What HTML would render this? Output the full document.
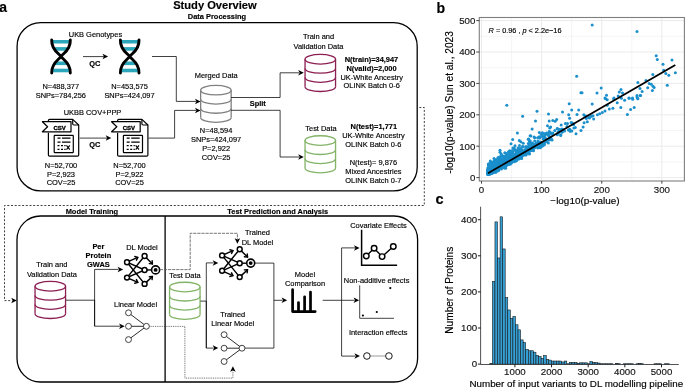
<!DOCTYPE html>
<html><head><meta charset="utf-8"><style>
html,body{margin:0;padding:0;background:#fff;}
body{width:685px;height:389px;overflow:hidden;font-family:"Liberation Sans",sans-serif;}
svg{display:block;will-change:transform;} text{stroke:currentColor;stroke-width:0.15px;}
</style></head><body>
<svg width="685" height="389" viewBox="0 0 685 389" font-family="Liberation Sans, sans-serif">
<rect width="685" height="389" fill="#fff"/>
<text transform="translate(-0.7,12.4) scale(0.93,1)" font-size="15" font-weight="bold">a</text>
<text transform="translate(436.5,12.6) scale(0.94,1)" font-size="15" font-weight="bold">b</text>
<text transform="translate(435.5,203.9) scale(0.97,1)" font-size="15" font-weight="bold">c</text>
<text x="214.95" y="8.5" font-size="11.15" font-weight="bold" text-anchor="middle" >Study Overview</text>
<text x="216.95" y="18.7" font-size="7.45" font-weight="bold" text-anchor="middle" >Data Processing</text>
<rect x="17.1" y="22.7" width="400.1" height="168.2" rx="23.5" ry="23.5" fill="none" stroke="#000" stroke-width="1.3"/>
<text x="95.45" y="37" font-size="7.45" text-anchor="middle" >UKB Genotypes</text>
<clipPath id="dnaclip61"><path d="M51.7,40 C51.2,50 59,53.5 61,56.5 C63,59.5 51.2,63 51.7,73 L70.3,73 C70.8,63 63,59.5 61,56.5 C59,53.5 70.8,50 70.3,40 Z"/></clipPath>
<g clip-path="url(#dnaclip61)" fill="#2ba6bb">
<rect x="49.7" y="39.9" width="22.6" height="3.6"/>
<rect x="49.7" y="47.1" width="22.6" height="3.6"/>
<rect x="49.7" y="61.5" width="22.6" height="3.6"/>
<rect x="49.7" y="68.7" width="22.6" height="3.6"/>
</g>
<path d="M51.7,40 C51.2,50 59,53.5 61,56.5 C63,59.5 70.8,63 70.3,73" fill="none" stroke="#000" stroke-width="2.9" stroke-linecap="round"/>
<path d="M70.3,40 C70.8,50 63,53.5 61,56.5 C59,59.5 51.2,63 51.7,73" fill="none" stroke="#000" stroke-width="2.9" stroke-linecap="round"/>
<clipPath id="dnaclip129"><path d="M120.39999999999999,40 C119.89999999999999,50 127.69999999999999,53.5 129.7,56.5 C131.7,59.5 119.89999999999999,63 120.39999999999999,73 L139.0,73 C139.5,63 131.7,59.5 129.7,56.5 C127.69999999999999,53.5 139.5,50 139.0,40 Z"/></clipPath>
<g clip-path="url(#dnaclip129)" fill="#2ba6bb">
<rect x="118.39999999999999" y="39.9" width="22.6" height="3.6"/>
<rect x="118.39999999999999" y="47.1" width="22.6" height="3.6"/>
<rect x="118.39999999999999" y="61.5" width="22.6" height="3.6"/>
<rect x="118.39999999999999" y="68.7" width="22.6" height="3.6"/>
</g>
<path d="M120.39999999999999,40 C119.89999999999999,50 127.69999999999999,53.5 129.7,56.5 C131.7,59.5 139.5,63 139.0,73" fill="none" stroke="#000" stroke-width="2.9" stroke-linecap="round"/>
<path d="M139.0,40 C139.5,50 131.7,53.5 129.7,56.5 C127.69999999999999,59.5 119.89999999999999,63 120.39999999999999,73" fill="none" stroke="#000" stroke-width="2.9" stroke-linecap="round"/>
<path d="M83,56.6 L104,56.6" fill="none" stroke="#000" stroke-width="0.75"/>
<path d="M108.10,56.60 L102.50,53.85 L103.90,56.60 L102.50,59.35 Z" fill="#000" stroke="none"/>
<text x="94.9" y="65.7" font-size="7.45" font-weight="bold" text-anchor="middle" >QC</text>
<text x="60.8" y="89.4" font-size="7.45" text-anchor="middle" >N=488,377</text>
<text x="60.8" y="98.3" font-size="7.45" text-anchor="middle" >SNPs=784,256</text>
<text x="129.5" y="89.4" font-size="7.45" text-anchor="middle" >N=453,575</text>
<text x="129.5" y="98.3" font-size="7.45" text-anchor="middle" >SNPs=424,097</text>
<text x="92.5" y="115.1" font-size="7.45" text-anchor="middle" >UKBB COV+PPP</text>
<g fill="none" stroke="#000" stroke-width="1.2" stroke-linejoin="round">
<path d="M48.4,121.7 V120.60000000000001 Q48.4,119.4 49.6,119.4 H72.69999999999999 L78.69999999999999,125.0 V154.90000000000003 Q78.69999999999999,156.10000000000002 77.49999999999999,156.10000000000002 H49.6 Q48.4,156.10000000000002 48.4,154.90000000000003 V132.70000000000002"/>
<path d="M72.69999999999999,119.4 V123.80000000000001 Q72.69999999999999,125.0 73.89999999999999,125.0 H78.69999999999999"/>
<path d="M42.4,121.7 H71.0 V131.8 H42.4 L47.6,126.75 Z" fill="#fff"/>
<rect x="54.2" y="135.3" width="19.1" height="17.3" rx="0.6"/>
</g>
<text x="59.599999999999994" y="129.8" font-size="6.0" font-weight="bold" text-anchor="middle" style="stroke-width:0.35px">CSV</text>
<g stroke="#000" stroke-width="1.25">
<path d="M57.5,138.1 H60.5 M62.0,138.1 H70.5"/>
<path d="M57.5,142.20000000000002 H60.5 M62.0,142.20000000000002 H70.5"/>
<path d="M57.5,145.70000000000002 H59.5 M61.0,145.70000000000002 H63.0 M64.3,145.70000000000002 H65.6"/>
<path d="M57.5,149.4 H59.5 M61.0,149.4 H63.0 M64.3,149.4 H65.6"/>
<path d="M66.5,145.4 L69.8,149.70000000000002 M69.8,145.4 L66.5,149.70000000000002" stroke-width="1.1"/>
</g>
<g fill="none" stroke="#000" stroke-width="1.2" stroke-linejoin="round">
<path d="M117.6,121.7 V120.60000000000001 Q117.6,119.4 118.8,119.4 H141.89999999999998 L147.89999999999998,125.0 V154.90000000000003 Q147.89999999999998,156.10000000000002 146.7,156.10000000000002 H118.8 Q117.6,156.10000000000002 117.6,154.90000000000003 V132.70000000000002"/>
<path d="M141.89999999999998,119.4 V123.80000000000001 Q141.89999999999998,125.0 143.09999999999997,125.0 H147.89999999999998"/>
<path d="M111.6,121.7 H140.2 V131.8 H111.6 L116.8,126.75 Z" fill="#fff"/>
<rect x="123.39999999999999" y="135.3" width="19.1" height="17.3" rx="0.6"/>
</g>
<text x="128.79999999999998" y="129.8" font-size="6.0" font-weight="bold" text-anchor="middle" style="stroke-width:0.35px">CSV</text>
<g stroke="#000" stroke-width="1.25">
<path d="M126.69999999999999,138.1 H129.7 M131.2,138.1 H139.7"/>
<path d="M126.69999999999999,142.20000000000002 H129.7 M131.2,142.20000000000002 H139.7"/>
<path d="M126.69999999999999,145.70000000000002 H128.7 M130.2,145.70000000000002 H132.2 M133.5,145.70000000000002 H134.79999999999998"/>
<path d="M126.69999999999999,149.4 H128.7 M130.2,149.4 H132.2 M133.5,149.4 H134.79999999999998"/>
<path d="M135.7,145.4 L139.0,149.70000000000002 M139.0,145.4 L135.7,149.70000000000002" stroke-width="1.1"/>
</g>
<path d="M79.6,138.1 L107,138.1" fill="none" stroke="#000" stroke-width="0.75"/>
<path d="M111.30,138.10 L105.70,135.35 L107.10,138.10 L105.70,140.85 Z" fill="#000" stroke="none"/>
<text x="94.8" y="146.8" font-size="7.45" font-weight="bold" text-anchor="middle" >QC</text>
<text x="61" y="167.7" font-size="7.45" text-anchor="middle" >N=52,700</text>
<text x="61" y="176.55" font-size="7.45" text-anchor="middle" >P=2,923</text>
<text x="61" y="185.4" font-size="7.45" text-anchor="middle" >COV=25</text>
<text x="129.5" y="167.7" font-size="7.45" text-anchor="middle" >N=52,700</text>
<text x="129.5" y="176.55" font-size="7.45" text-anchor="middle" >P=2,922</text>
<text x="129.5" y="185.4" font-size="7.45" text-anchor="middle" >COV=25</text>
<path d="M152,56.5 L176.3,56.5 L176.3,101.4 L196,101.4" fill="none" stroke="#000" stroke-width="0.75"/>
<path d="M200.60,101.40 L195.00,98.65 L196.40,101.40 L195.00,104.15 Z" fill="#000" stroke="none"/>
<path d="M148.5,138.1 L174.6,138.1 L174.6,110.4 L196,110.4" fill="none" stroke="#000" stroke-width="0.75"/>
<path d="M200.60,110.40 L195.00,107.65 L196.40,110.40 L195.00,113.15 Z" fill="#000" stroke="none"/>
<text x="216.25" y="78.4" font-size="7.45" text-anchor="middle" >Merged Data</text>
<g fill="none" stroke="#808080" stroke-width="1.3">
<ellipse cx="215.9" cy="90.15" rx="15.25" ry="4.8"/>
<path d="M200.65,99.30000000000001 A15.25,4.8 0 0 0 231.15,99.30000000000001"/>
<path d="M200.65,108.45 A15.25,4.8 0 0 0 231.15,108.45"/>
<path d="M200.65,117.60000000000001 A15.25,4.8 0 0 0 231.15,117.60000000000001"/>
<path d="M200.65,90.15 V117.60000000000001 M231.15,90.15 V117.60000000000001"/>
</g>
<text x="216.1" y="133.3" font-size="7.45" text-anchor="middle" >N=48,594</text>
<text x="216.1" y="142.2" font-size="7.45" text-anchor="middle" >SNPs=424,097</text>
<text x="216.1" y="151.1" font-size="7.45" text-anchor="middle" >P=2,922</text>
<text x="216.1" y="160.0" font-size="7.45" text-anchor="middle" >COV=25</text>
<path d="M231.1,97.5 L280.1,97.5 L280.1,72.8 L299,72.8" fill="none" stroke="#000" stroke-width="0.75"/>
<path d="M303.80,72.80 L298.20,70.05 L299.60,72.80 L298.20,75.55 Z" fill="#000" stroke="none"/>
<path d="M231.1,110.3 L280.1,110.3 L280.1,157 L299,157" fill="none" stroke="#000" stroke-width="0.75"/>
<path d="M303.80,157.00 L298.20,154.25 L299.60,157.00 L298.20,159.75 Z" fill="#000" stroke="none"/>
<text x="257.75" y="106.2" font-size="7.45" font-weight="bold" text-anchor="middle" >Split</text>
<text x="318.5" y="39.2" font-size="7.45" text-anchor="middle" >Train and</text>
<text x="318.5" y="48.8" font-size="7.45" text-anchor="middle" >Validation Data</text>
<g fill="none" stroke="#8c1f52" stroke-width="1.3">
<ellipse cx="320.3" cy="59.24999999999999" rx="15.25" ry="4.8"/>
<path d="M305.05,68.39999999999999 A15.25,4.8 0 0 0 335.55,68.39999999999999"/>
<path d="M305.05,77.55 A15.25,4.8 0 0 0 335.55,77.55"/>
<path d="M305.05,86.69999999999999 A15.25,4.8 0 0 0 335.55,86.69999999999999"/>
<path d="M305.05,59.24999999999999 V86.69999999999999 M335.55,59.24999999999999 V86.69999999999999"/>
</g>
<text x="371.5" y="61.7" font-size="7.45" font-weight="bold" text-anchor="middle" >N(train)=34,947</text>
<text x="371.5" y="70.55" font-size="7.45" font-weight="bold" text-anchor="middle" >N(valid)=2,000</text>
<text x="371.7" y="79.5" font-size="7.45" text-anchor="middle" >UK-White Ancestry</text>
<text x="371.7" y="88.35" font-size="7.45" text-anchor="middle" >OLINK Batch 0-6</text>
<text x="321" y="130.5" font-size="7.45" text-anchor="middle" >Test Data</text>
<g fill="none" stroke="#82b366" stroke-width="1.3">
<ellipse cx="320.3" cy="140.55" rx="15.25" ry="4.8"/>
<path d="M305.05,149.70000000000002 A15.25,4.8 0 0 0 335.55,149.70000000000002"/>
<path d="M305.05,158.85000000000002 A15.25,4.8 0 0 0 335.55,158.85000000000002"/>
<path d="M305.05,168.0 A15.25,4.8 0 0 0 335.55,168.0"/>
<path d="M305.05,140.55 V168.0 M335.55,140.55 V168.0"/>
</g>
<text x="373.8" y="129.3" font-size="7.45" font-weight="bold" text-anchor="middle" >N(test)=1,771</text>
<text x="373.4" y="138.2" font-size="7.45" text-anchor="middle" >UK-White Ancestry</text>
<text x="373.4" y="147.1" font-size="7.45" text-anchor="middle" >OLINK Batch 0-6</text>
<text x="373.4" y="164.9" font-size="7.45" text-anchor="middle" >N(test)= 9,876</text>
<text x="373.4" y="173.8" font-size="7.45" text-anchor="middle" >Mixed Ancestries</text>
<text x="373.4" y="182.7" font-size="7.45" text-anchor="middle" >OLINK Batch 0-7</text>
<path d="M419.3,107.5 L424.3,107.5 L424.3,205.5 L4.5,205.5 L4.5,300.6 L12,300.6" fill="none" stroke="#111" stroke-width="0.8" stroke-dasharray="2 1.7"/>
<path d="M16.80,300.60 L11.20,297.85 L12.60,300.60 L11.20,303.35 Z" fill="#000" stroke="none"/>
<text x="91.9" y="213.5" font-size="7.45" font-weight="bold" text-anchor="middle" >Model Training</text>
<text x="277.75" y="213.5" font-size="7.45" font-weight="bold" text-anchor="middle" >Test Prediction and Analysis</text>
<rect x="17" y="216" width="400.6" height="166" rx="23.5" ry="23.5" fill="none" stroke="#000" stroke-width="1.3"/>
<path d="M165.1,216 V382" stroke="#000" stroke-width="1.3"/>
<text x="51.9" y="267.1" font-size="7.45" text-anchor="middle" >Train and</text>
<text x="51.9" y="276.7" font-size="7.45" text-anchor="middle" >Validation Data</text>
<g fill="none" stroke="#8c1f52" stroke-width="1.3">
<ellipse cx="50.3" cy="286.25" rx="15.25" ry="4.8"/>
<path d="M35.05,295.4 A15.25,4.8 0 0 0 65.55,295.4"/>
<path d="M35.05,304.55 A15.25,4.8 0 0 0 65.55,304.55"/>
<path d="M35.05,313.7 A15.25,4.8 0 0 0 65.55,313.7"/>
<path d="M35.05,286.25 V313.7 M65.55,286.25 V313.7"/>
</g>
<path d="M65.9,300.2 L94.6,300.2" fill="none" stroke="#000" stroke-width="0.75"/>
<path d="M94.6,326.2 L94.6,269.4 L118.5,269.4" fill="none" stroke="#000" stroke-width="0.75"/>
<path d="M123.20,269.40 L117.60,266.65 L119.00,269.40 L117.60,272.15 Z" fill="#000" stroke="none"/>
<path d="M94.6,300 L94.6,326.2 L120,326.2" fill="none" stroke="#000" stroke-width="0.75"/>
<path d="M124.70,326.20 L119.10,323.45 L120.50,326.20 L119.10,328.95 Z" fill="#000" stroke="none"/>
<text x="98.4" y="249.1" font-size="7.45" font-weight="bold" text-anchor="middle" >Per</text>
<text x="98.4" y="257.95" font-size="7.45" font-weight="bold" text-anchor="middle" >Protein</text>
<text x="98.4" y="266.8" font-size="7.45" font-weight="bold" text-anchor="middle" >GWAS</text>
<text x="141.95" y="249.6" font-size="7.45" text-anchor="middle" >DL Model</text>
<g fill="none" stroke="#000" stroke-width="1.45" stroke-linecap="round" stroke-linejoin="round"><path d="M127,262.2 L144.6,270.0"/><path d="M127,262.2 L144.6,283.9"/><path d="M127,277.6 L144.6,256"/><path d="M127,277.6 L144.6,270.0"/><path d="M127,262.2 L137.80,257.40"/><path d="M136.44,260.19 L137.80,257.40 L134.82,256.54"/><path d="M127,277.6 L137.80,282.40"/><path d="M134.82,283.26 L137.80,282.40 L136.44,279.61"/><path d="M144.6,256 L152.40,263.90"/><path d="M149.31,263.62 L152.40,263.90 L152.16,260.81"/><path d="M144.6,283.9 L152.40,276.50"/><path d="M152.05,279.58 L152.40,276.50 L149.31,276.68"/><path d="M144.6,270.0 L155.6,269.9"/></g>
<circle cx="127" cy="262.2" r="2.45" fill="#fff" stroke="#000" stroke-width="1.45"/>
<circle cx="127" cy="277.6" r="2.45" fill="#fff" stroke="#000" stroke-width="1.45"/>
<circle cx="144.6" cy="256" r="2.45" fill="#fff" stroke="#000" stroke-width="1.45"/>
<circle cx="144.6" cy="270.0" r="2.45" fill="#fff" stroke="#000" stroke-width="1.45"/>
<circle cx="144.6" cy="283.9" r="2.45" fill="#fff" stroke="#000" stroke-width="1.45"/>
<circle cx="155.6" cy="269.9" r="4.0" fill="#fff" stroke="#000" stroke-width="1.6"/>
<circle cx="155.6" cy="269.9" r="1.95" fill="#000"/>
<text x="135.55" y="307.2" font-size="7.45" text-anchor="middle" >Linear Model</text>
<path d="M128.50,312.80 L146.40,326.30" stroke="#222" stroke-width="0.95" fill="none"/>
<path d="M128.50,326.30 L146.40,326.30" stroke="#222" stroke-width="0.95" fill="none"/>
<path d="M128.50,339.60 L146.40,326.30" stroke="#222" stroke-width="0.95" fill="none"/>
<circle cx="128.50" cy="312.80" r="2.95" fill="#fff" stroke="#222" stroke-width="0.85"/>
<circle cx="128.50" cy="326.30" r="2.95" fill="#fff" stroke="#222" stroke-width="0.85"/>
<circle cx="128.50" cy="339.60" r="2.95" fill="#fff" stroke="#222" stroke-width="0.85"/>
<circle cx="146.40" cy="326.30" r="2.95" fill="#fff" stroke="#222" stroke-width="0.85"/>
<path d="M159.79999999999998,269.6 L190.2,269.6 L190.2,233.3 L237.4,233.3 L237.4,239" fill="none" stroke="#555" stroke-width="0.8" stroke-dasharray="3.2 0.9"/>
<path d="M237.40,243.80 L234.65,238.20 L237.40,239.60 L240.15,238.20 Z" fill="#000" stroke="none"/>
<path d="M149.6,326.4 L184.9,326.4 L184.9,378.1 L232.9,378.1 L232.9,371" fill="none" stroke="#333" stroke-width="0.75" stroke-dasharray="0.9 0.9"/>
<path d="M232.90,366.20 L230.15,371.80 L232.90,370.40 L235.65,371.80 Z" fill="#000" stroke="none"/>
<text x="184.9" y="278.4" font-size="7.45" text-anchor="middle" >Test Data</text>
<g fill="none" stroke="#82b366" stroke-width="1.3">
<ellipse cx="184.8" cy="287.05" rx="15.25" ry="4.8"/>
<path d="M169.55,296.2 A15.25,4.8 0 0 0 200.05,296.2"/>
<path d="M169.55,305.35 A15.25,4.8 0 0 0 200.05,305.35"/>
<path d="M169.55,314.5 A15.25,4.8 0 0 0 200.05,314.5"/>
<path d="M169.55,287.05 V314.5 M200.05,287.05 V314.5"/>
</g>
<path d="M200.4,301.1 L206.3,301.1" fill="none" stroke="#000" stroke-width="0.75"/>
<path d="M206.3,348.1 L206.3,262.9 L213.5,262.9" fill="none" stroke="#000" stroke-width="0.75"/>
<path d="M218.30,262.90 L212.70,260.15 L214.10,262.90 L212.70,265.65 Z" fill="#000" stroke="none"/>
<path d="M206.3,301 L206.3,348.1 L213.5,348.1" fill="none" stroke="#000" stroke-width="0.75"/>
<path d="M218.30,348.10 L212.70,345.35 L214.10,348.10 L212.70,350.85 Z" fill="#000" stroke="none"/>
<text x="257.5" y="235.4" font-size="7.45" text-anchor="middle" >Trained</text>
<text x="257.5" y="244.6" font-size="7.45" text-anchor="middle" >DL Model</text>
<g fill="none" stroke="#000" stroke-width="1.45" stroke-linecap="round" stroke-linejoin="round"><path d="M222.1,255.4 L239.7,263.2"/><path d="M222.1,255.4 L239.7,277.1"/><path d="M222.1,270.8 L239.7,249.2"/><path d="M222.1,270.8 L239.7,263.2"/><path d="M222.1,255.4 L232.90,250.60"/><path d="M231.54,253.39 L232.90,250.60 L229.92,249.74"/><path d="M222.1,270.8 L232.90,275.60"/><path d="M229.92,276.46 L232.90,275.60 L231.54,272.81"/><path d="M239.7,249.2 L247.50,257.10"/><path d="M244.41,256.82 L247.50,257.10 L247.26,254.01"/><path d="M239.7,277.1 L247.50,269.70"/><path d="M247.15,272.78 L247.50,269.70 L244.41,269.88"/><path d="M239.7,263.2 L250.7,263.1"/></g>
<circle cx="222.1" cy="255.4" r="2.45" fill="#fff" stroke="#000" stroke-width="1.45"/>
<circle cx="222.1" cy="270.8" r="2.45" fill="#fff" stroke="#000" stroke-width="1.45"/>
<circle cx="239.7" cy="249.2" r="2.45" fill="#fff" stroke="#000" stroke-width="1.45"/>
<circle cx="239.7" cy="263.2" r="2.45" fill="#fff" stroke="#000" stroke-width="1.45"/>
<circle cx="239.7" cy="277.1" r="2.45" fill="#fff" stroke="#000" stroke-width="1.45"/>
<circle cx="250.7" cy="263.1" r="4.0" fill="#fff" stroke="#000" stroke-width="1.6"/>
<circle cx="250.7" cy="263.1" r="1.95" fill="#000"/>
<text x="232.7" y="317.2" font-size="7.45" text-anchor="middle" >Trained</text>
<text x="232.7" y="326.2" font-size="7.45" text-anchor="middle" >Linear Model</text>
<path d="M224.10,334.70 L242.00,348.20" stroke="#222" stroke-width="0.95" fill="none"/>
<path d="M224.10,348.20 L242.00,348.20" stroke="#222" stroke-width="0.95" fill="none"/>
<path d="M224.10,361.50 L242.00,348.20" stroke="#222" stroke-width="0.95" fill="none"/>
<circle cx="224.10" cy="334.70" r="2.95" fill="#fff" stroke="#222" stroke-width="0.85"/>
<circle cx="224.10" cy="348.20" r="2.95" fill="#fff" stroke="#222" stroke-width="0.85"/>
<circle cx="224.10" cy="361.50" r="2.95" fill="#fff" stroke="#222" stroke-width="0.85"/>
<circle cx="242.00" cy="348.20" r="2.95" fill="#fff" stroke="#222" stroke-width="0.85"/>
<path d="M254.89999999999998,263.1 L273.9,263.1 L273.9,348.1 L245.0,348.1" fill="none" stroke="#000" stroke-width="0.75"/>
<path d="M273.9,300.3 L282.5,300.3" fill="none" stroke="#000" stroke-width="0.75"/>
<path d="M287.20,300.30 L281.60,297.55 L283.00,300.30 L281.60,303.05 Z" fill="#000" stroke="none"/>
<text x="305" y="277.4" font-size="7.45" text-anchor="middle" >Model</text>
<text x="305" y="286.25" font-size="7.45" text-anchor="middle" >Comparison</text>
<path d="M292.6,289.7 V311.6 H315.2 M298.5,311.6 V302.5 M304.6,311.6 V296.8 M310.5,311.6 V292.1" fill="none" stroke="#000" stroke-width="2.7" stroke-linecap="round" stroke-linejoin="round"/>
<path d="M322.7,300.3 L341.6,300.3" fill="none" stroke="#000" stroke-width="0.75"/>
<path d="M341.6,247.9 L341.6,356.1 L355,356.1" fill="none" stroke="#000" stroke-width="0.75"/>
<path d="M341.6,247.9 L355,247.9" fill="none" stroke="#000" stroke-width="0.75"/>
<path d="M359.60,247.90 L354.00,245.15 L355.40,247.90 L354.00,250.65 Z" fill="#000" stroke="none"/>
<path d="M341.6,300.3 L354.6,300.3" fill="none" stroke="#000" stroke-width="0.75"/>
<path d="M359.20,300.30 L353.60,297.55 L355.00,300.30 L353.60,303.05 Z" fill="#000" stroke="none"/>
<path d="M360.00,356.10 L354.40,353.35 L355.80,356.10 L354.40,358.85 Z" fill="#000" stroke="none"/>
<text x="378.45" y="227.6" font-size="7.45" text-anchor="middle" >Covariate Effects</text>
<path d="M361.6,229.7 V265.2 H397.1" fill="none" stroke="#000" stroke-width="1.5"/>
<path d="M366.3,256 L374.1,248.2 L382.1,256.6 L393.3,246.5" fill="none" stroke="#000" stroke-width="1.4"/>
<circle cx="366.3" cy="256" r="2.75" fill="#fff" stroke="#000" stroke-width="1.45"/>
<circle cx="374.1" cy="248.2" r="2.75" fill="#fff" stroke="#000" stroke-width="1.45"/>
<circle cx="382.1" cy="256.6" r="2.75" fill="#fff" stroke="#000" stroke-width="1.45"/>
<circle cx="393.3" cy="246.5" r="2.75" fill="#fff" stroke="#000" stroke-width="1.45"/>
<text x="376.6" y="282.6" font-size="7.45" text-anchor="middle" >Non-additive effects</text>
<path d="M359.7,285.4 V318.3 H394" fill="none" stroke="#222" stroke-width="0.85"/>
<circle cx="362.9" cy="315.5" r="1.1" fill="#000"/>
<circle cx="376.8" cy="312" r="1.1" fill="#000"/>
<circle cx="390.3" cy="288.1" r="1.1" fill="#000"/>
<text x="378.2" y="335.3" font-size="7.45" text-anchor="middle" >Interaction effects</text>
<path d="M370.6,356 H385.2" stroke="#555" stroke-width="0.6"/>
<circle cx="366.9" cy="356" r="3.3" fill="#fff" stroke="#000" stroke-width="0.9"/>
<circle cx="388.9" cy="356" r="3.3" fill="#fff" stroke="#000" stroke-width="0.9"/>
<rect x="479.3" y="17.5" width="205.09999999999997" height="163.5" fill="#fff"/>
<g stroke="#ebebeb" stroke-width="0.5"><path d="M511.56,17.5 V181.0"/><path d="M571.68,17.5 V181.0"/><path d="M631.80,17.5 V181.0"/><path d="M479.3,161.90 H684.4"/><path d="M479.3,130.50 H684.4"/><path d="M479.3,99.10 H684.4"/><path d="M479.3,67.70 H684.4"/><path d="M479.3,36.30 H684.4"/></g><g stroke="#ebebeb" stroke-width="1"><path d="M481.50,17.5 V181.0"/><path d="M541.62,17.5 V181.0"/><path d="M601.74,17.5 V181.0"/><path d="M661.86,17.5 V181.0"/><path d="M479.3,177.60 H684.4"/><path d="M479.3,146.20 H684.4"/><path d="M479.3,114.80 H684.4"/><path d="M479.3,83.40 H684.4"/><path d="M479.3,52.00 H684.4"/><path d="M479.3,20.60 H684.4"/></g>
<g fill="#1a8fcc"><circle cx="489.5" cy="171.5" r="1.5"/><circle cx="496.0" cy="167.7" r="1.5"/><circle cx="488.7" cy="173.9" r="1.5"/><circle cx="562.0" cy="128.9" r="1.5"/><circle cx="532.5" cy="142.9" r="1.5"/><circle cx="491.9" cy="170.3" r="1.5"/><circle cx="498.0" cy="168.3" r="1.5"/><circle cx="490.3" cy="172.6" r="1.5"/><circle cx="492.0" cy="168.4" r="1.5"/><circle cx="494.6" cy="170.2" r="1.5"/><circle cx="512.5" cy="159.7" r="1.5"/><circle cx="494.0" cy="170.8" r="1.5"/><circle cx="495.6" cy="167.1" r="1.5"/><circle cx="512.6" cy="155.2" r="1.5"/><circle cx="497.9" cy="170.1" r="1.5"/><circle cx="500.6" cy="162.2" r="1.5"/><circle cx="496.0" cy="168.6" r="1.5"/><circle cx="489.0" cy="168.4" r="1.5"/><circle cx="490.9" cy="171.9" r="1.5"/><circle cx="513.3" cy="156.6" r="1.5"/><circle cx="495.8" cy="169.9" r="1.5"/><circle cx="494.4" cy="168.4" r="1.5"/><circle cx="495.5" cy="168.5" r="1.5"/><circle cx="497.6" cy="168.4" r="1.5"/><circle cx="505.8" cy="158.7" r="1.5"/><circle cx="539.9" cy="147.3" r="1.5"/><circle cx="493.6" cy="168.5" r="1.5"/><circle cx="489.6" cy="171.2" r="1.5"/><circle cx="489.5" cy="167.0" r="1.5"/><circle cx="491.6" cy="169.5" r="1.5"/><circle cx="489.1" cy="169.2" r="1.5"/><circle cx="488.8" cy="173.5" r="1.5"/><circle cx="487.8" cy="170.4" r="1.5"/><circle cx="496.5" cy="168.9" r="1.5"/><circle cx="517.6" cy="152.1" r="1.5"/><circle cx="505.7" cy="161.1" r="1.5"/><circle cx="528.9" cy="146.1" r="1.5"/><circle cx="487.9" cy="174.0" r="1.5"/><circle cx="501.7" cy="164.0" r="1.5"/><circle cx="490.5" cy="171.6" r="1.5"/><circle cx="499.3" cy="162.0" r="1.5"/><circle cx="489.7" cy="173.3" r="1.5"/><circle cx="526.0" cy="146.6" r="1.5"/><circle cx="506.9" cy="164.6" r="1.5"/><circle cx="493.7" cy="167.8" r="1.5"/><circle cx="515.8" cy="158.8" r="1.5"/><circle cx="508.6" cy="156.9" r="1.5"/><circle cx="487.7" cy="173.5" r="1.5"/><circle cx="506.4" cy="161.3" r="1.5"/><circle cx="493.5" cy="169.8" r="1.5"/><circle cx="498.1" cy="161.6" r="1.5"/><circle cx="494.9" cy="168.0" r="1.5"/><circle cx="501.3" cy="162.3" r="1.5"/><circle cx="494.5" cy="170.2" r="1.5"/><circle cx="492.3" cy="172.6" r="1.5"/><circle cx="496.3" cy="168.2" r="1.5"/><circle cx="490.3" cy="169.3" r="1.5"/><circle cx="497.4" cy="168.3" r="1.5"/><circle cx="502.3" cy="163.4" r="1.5"/><circle cx="496.7" cy="162.4" r="1.5"/><circle cx="540.3" cy="142.0" r="1.5"/><circle cx="564.6" cy="131.1" r="1.5"/><circle cx="488.4" cy="172.9" r="1.5"/><circle cx="544.9" cy="135.1" r="1.5"/><circle cx="491.4" cy="162.2" r="1.5"/><circle cx="495.5" cy="171.2" r="1.5"/><circle cx="492.0" cy="171.7" r="1.5"/><circle cx="502.9" cy="161.9" r="1.5"/><circle cx="487.7" cy="173.8" r="1.5"/><circle cx="552.9" cy="133.1" r="1.5"/><circle cx="491.2" cy="169.2" r="1.5"/><circle cx="516.7" cy="156.4" r="1.5"/><circle cx="489.5" cy="171.1" r="1.5"/><circle cx="488.2" cy="173.6" r="1.5"/><circle cx="488.4" cy="171.6" r="1.5"/><circle cx="510.8" cy="155.6" r="1.5"/><circle cx="492.5" cy="172.8" r="1.5"/><circle cx="490.8" cy="172.0" r="1.5"/><circle cx="490.2" cy="172.2" r="1.5"/><circle cx="495.8" cy="166.7" r="1.5"/><circle cx="491.0" cy="169.7" r="1.5"/><circle cx="495.3" cy="168.9" r="1.5"/><circle cx="508.1" cy="163.8" r="1.5"/><circle cx="496.0" cy="168.1" r="1.5"/><circle cx="505.2" cy="162.3" r="1.5"/><circle cx="492.6" cy="171.8" r="1.5"/><circle cx="503.8" cy="159.5" r="1.5"/><circle cx="515.5" cy="155.8" r="1.5"/><circle cx="494.9" cy="160.8" r="1.5"/><circle cx="520.8" cy="141.7" r="1.5"/><circle cx="492.8" cy="167.7" r="1.5"/><circle cx="496.0" cy="168.0" r="1.5"/><circle cx="493.6" cy="169.1" r="1.5"/><circle cx="496.6" cy="168.3" r="1.5"/><circle cx="519.3" cy="140.6" r="1.5"/><circle cx="503.0" cy="165.9" r="1.5"/><circle cx="509.2" cy="159.4" r="1.5"/><circle cx="491.3" cy="170.7" r="1.5"/><circle cx="528.7" cy="149.0" r="1.5"/><circle cx="517.4" cy="159.2" r="1.5"/><circle cx="492.9" cy="168.6" r="1.5"/><circle cx="512.4" cy="157.4" r="1.5"/><circle cx="487.6" cy="171.3" r="1.5"/><circle cx="489.2" cy="174.1" r="1.5"/><circle cx="488.4" cy="170.2" r="1.5"/><circle cx="516.2" cy="152.2" r="1.5"/><circle cx="524.3" cy="154.9" r="1.5"/><circle cx="503.9" cy="163.6" r="1.5"/><circle cx="488.3" cy="173.1" r="1.5"/><circle cx="496.2" cy="165.2" r="1.5"/><circle cx="489.0" cy="172.0" r="1.5"/><circle cx="488.3" cy="169.7" r="1.5"/><circle cx="512.6" cy="159.6" r="1.5"/><circle cx="498.0" cy="164.8" r="1.5"/><circle cx="493.5" cy="169.5" r="1.5"/><circle cx="494.2" cy="171.0" r="1.5"/><circle cx="487.8" cy="171.3" r="1.5"/><circle cx="492.6" cy="166.4" r="1.5"/><circle cx="504.2" cy="163.7" r="1.5"/><circle cx="546.1" cy="140.3" r="1.5"/><circle cx="568.3" cy="130.1" r="1.5"/><circle cx="488.8" cy="173.2" r="1.5"/><circle cx="520.5" cy="154.4" r="1.5"/><circle cx="525.1" cy="150.7" r="1.5"/><circle cx="512.7" cy="151.7" r="1.5"/><circle cx="503.4" cy="162.8" r="1.5"/><circle cx="496.0" cy="164.3" r="1.5"/><circle cx="491.8" cy="170.3" r="1.5"/><circle cx="500.2" cy="167.0" r="1.5"/><circle cx="489.7" cy="172.4" r="1.5"/><circle cx="504.9" cy="163.1" r="1.5"/><circle cx="489.3" cy="170.0" r="1.5"/><circle cx="488.7" cy="172.7" r="1.5"/><circle cx="522.5" cy="150.5" r="1.5"/><circle cx="493.2" cy="162.5" r="1.5"/><circle cx="495.9" cy="168.3" r="1.5"/><circle cx="493.7" cy="168.7" r="1.5"/><circle cx="567.0" cy="126.4" r="1.5"/><circle cx="487.9" cy="171.8" r="1.5"/><circle cx="493.5" cy="172.5" r="1.5"/><circle cx="536.4" cy="143.6" r="1.5"/><circle cx="501.3" cy="165.9" r="1.5"/><circle cx="513.8" cy="158.6" r="1.5"/><circle cx="505.8" cy="158.0" r="1.5"/><circle cx="496.7" cy="167.6" r="1.5"/><circle cx="490.5" cy="169.5" r="1.5"/><circle cx="493.4" cy="169.0" r="1.5"/><circle cx="525.9" cy="148.9" r="1.5"/><circle cx="503.8" cy="164.3" r="1.5"/><circle cx="496.8" cy="165.6" r="1.5"/><circle cx="501.3" cy="165.9" r="1.5"/><circle cx="487.9" cy="170.5" r="1.5"/><circle cx="493.1" cy="169.2" r="1.5"/><circle cx="503.2" cy="167.1" r="1.5"/><circle cx="490.5" cy="171.7" r="1.5"/><circle cx="490.0" cy="171.7" r="1.5"/><circle cx="562.5" cy="111.9" r="1.5"/><circle cx="488.2" cy="171.2" r="1.5"/><circle cx="541.8" cy="144.4" r="1.5"/><circle cx="490.0" cy="173.6" r="1.5"/><circle cx="500.6" cy="166.7" r="1.5"/><circle cx="491.5" cy="163.5" r="1.5"/><circle cx="527.6" cy="150.6" r="1.5"/><circle cx="501.8" cy="162.4" r="1.5"/><circle cx="517.8" cy="155.9" r="1.5"/><circle cx="493.9" cy="168.8" r="1.5"/><circle cx="488.6" cy="172.5" r="1.5"/><circle cx="504.1" cy="164.1" r="1.5"/><circle cx="491.3" cy="167.0" r="1.5"/><circle cx="491.4" cy="168.5" r="1.5"/><circle cx="512.9" cy="157.0" r="1.5"/><circle cx="491.0" cy="170.0" r="1.5"/><circle cx="492.6" cy="169.9" r="1.5"/><circle cx="511.1" cy="162.0" r="1.5"/><circle cx="505.8" cy="162.3" r="1.5"/><circle cx="488.3" cy="170.9" r="1.5"/><circle cx="534.7" cy="140.9" r="1.5"/><circle cx="495.8" cy="171.3" r="1.5"/><circle cx="490.7" cy="172.9" r="1.5"/><circle cx="534.9" cy="145.2" r="1.5"/><circle cx="509.6" cy="157.9" r="1.5"/><circle cx="490.9" cy="169.8" r="1.5"/><circle cx="509.3" cy="162.1" r="1.5"/><circle cx="490.7" cy="170.7" r="1.5"/><circle cx="495.3" cy="168.1" r="1.5"/><circle cx="491.7" cy="172.6" r="1.5"/><circle cx="524.3" cy="151.0" r="1.5"/><circle cx="491.1" cy="171.8" r="1.5"/><circle cx="492.2" cy="171.0" r="1.5"/><circle cx="490.3" cy="170.7" r="1.5"/><circle cx="493.3" cy="169.2" r="1.5"/><circle cx="492.0" cy="167.2" r="1.5"/><circle cx="488.3" cy="172.1" r="1.5"/><circle cx="489.9" cy="168.8" r="1.5"/><circle cx="491.5" cy="170.3" r="1.5"/><circle cx="494.0" cy="167.0" r="1.5"/><circle cx="506.5" cy="161.9" r="1.5"/><circle cx="501.4" cy="163.4" r="1.5"/><circle cx="513.3" cy="157.8" r="1.5"/><circle cx="548.3" cy="135.1" r="1.5"/><circle cx="496.0" cy="161.8" r="1.5"/><circle cx="495.6" cy="168.1" r="1.5"/><circle cx="496.8" cy="166.1" r="1.5"/><circle cx="488.2" cy="171.3" r="1.5"/><circle cx="515.7" cy="155.6" r="1.5"/><circle cx="493.7" cy="171.5" r="1.5"/><circle cx="492.6" cy="169.2" r="1.5"/><circle cx="490.9" cy="170.4" r="1.5"/><circle cx="488.6" cy="170.5" r="1.5"/><circle cx="498.5" cy="168.2" r="1.5"/><circle cx="496.7" cy="167.2" r="1.5"/><circle cx="494.4" cy="166.5" r="1.5"/><circle cx="490.7" cy="171.0" r="1.5"/><circle cx="488.9" cy="173.2" r="1.5"/><circle cx="494.5" cy="169.9" r="1.5"/><circle cx="503.4" cy="164.6" r="1.5"/><circle cx="488.2" cy="174.0" r="1.5"/><circle cx="510.9" cy="160.5" r="1.5"/><circle cx="530.1" cy="135.8" r="1.5"/><circle cx="492.1" cy="167.8" r="1.5"/><circle cx="490.4" cy="167.9" r="1.5"/><circle cx="507.8" cy="157.8" r="1.5"/><circle cx="493.4" cy="170.1" r="1.5"/><circle cx="489.6" cy="171.0" r="1.5"/><circle cx="544.5" cy="136.0" r="1.5"/><circle cx="498.8" cy="165.0" r="1.5"/><circle cx="497.9" cy="167.1" r="1.5"/><circle cx="500.2" cy="166.8" r="1.5"/><circle cx="543.5" cy="144.9" r="1.5"/><circle cx="489.9" cy="172.6" r="1.5"/><circle cx="508.1" cy="162.0" r="1.5"/><circle cx="500.6" cy="164.0" r="1.5"/><circle cx="489.5" cy="168.2" r="1.5"/><circle cx="490.6" cy="172.4" r="1.5"/><circle cx="487.5" cy="173.1" r="1.5"/><circle cx="498.2" cy="164.5" r="1.5"/><circle cx="489.3" cy="171.5" r="1.5"/><circle cx="539.3" cy="145.5" r="1.5"/><circle cx="491.2" cy="169.8" r="1.5"/><circle cx="500.0" cy="159.2" r="1.5"/><circle cx="494.7" cy="167.9" r="1.5"/><circle cx="488.2" cy="173.2" r="1.5"/><circle cx="497.1" cy="165.1" r="1.5"/><circle cx="499.8" cy="166.8" r="1.5"/><circle cx="492.0" cy="171.0" r="1.5"/><circle cx="519.2" cy="149.1" r="1.5"/><circle cx="503.3" cy="164.4" r="1.5"/><circle cx="488.0" cy="171.3" r="1.5"/><circle cx="534.6" cy="147.8" r="1.5"/><circle cx="506.2" cy="163.4" r="1.5"/><circle cx="572.3" cy="123.1" r="1.5"/><circle cx="503.9" cy="161.1" r="1.5"/><circle cx="497.5" cy="161.1" r="1.5"/><circle cx="517.3" cy="158.1" r="1.5"/><circle cx="514.2" cy="157.0" r="1.5"/><circle cx="503.0" cy="166.8" r="1.5"/><circle cx="490.4" cy="172.1" r="1.5"/><circle cx="487.8" cy="167.9" r="1.5"/><circle cx="489.4" cy="172.1" r="1.5"/><circle cx="517.7" cy="156.6" r="1.5"/><circle cx="498.2" cy="169.1" r="1.5"/><circle cx="489.2" cy="171.0" r="1.5"/><circle cx="560.4" cy="130.9" r="1.5"/><circle cx="529.7" cy="148.9" r="1.5"/><circle cx="512.7" cy="155.3" r="1.5"/><circle cx="492.1" cy="170.3" r="1.5"/><circle cx="491.5" cy="163.9" r="1.5"/><circle cx="510.4" cy="162.4" r="1.5"/><circle cx="493.9" cy="168.9" r="1.5"/><circle cx="490.4" cy="171.0" r="1.5"/><circle cx="508.1" cy="157.8" r="1.5"/><circle cx="487.7" cy="171.8" r="1.5"/><circle cx="492.7" cy="171.6" r="1.5"/><circle cx="522.1" cy="153.3" r="1.5"/><circle cx="504.9" cy="157.7" r="1.5"/><circle cx="526.6" cy="149.6" r="1.5"/><circle cx="493.7" cy="166.9" r="1.5"/><circle cx="490.3" cy="165.4" r="1.5"/><circle cx="493.2" cy="167.8" r="1.5"/><circle cx="522.8" cy="154.9" r="1.5"/><circle cx="492.3" cy="169.5" r="1.5"/><circle cx="492.2" cy="165.6" r="1.5"/><circle cx="489.1" cy="174.1" r="1.5"/><circle cx="502.1" cy="164.6" r="1.5"/><circle cx="489.6" cy="171.9" r="1.5"/><circle cx="490.0" cy="171.0" r="1.5"/><circle cx="490.2" cy="162.3" r="1.5"/><circle cx="520.9" cy="154.4" r="1.5"/><circle cx="490.4" cy="170.4" r="1.5"/><circle cx="517.4" cy="151.7" r="1.5"/><circle cx="489.4" cy="173.2" r="1.5"/><circle cx="501.7" cy="166.4" r="1.5"/><circle cx="501.3" cy="165.4" r="1.5"/><circle cx="517.9" cy="153.2" r="1.5"/><circle cx="513.4" cy="160.6" r="1.5"/><circle cx="494.1" cy="169.5" r="1.5"/><circle cx="512.6" cy="156.6" r="1.5"/><circle cx="501.0" cy="164.4" r="1.5"/><circle cx="500.3" cy="156.6" r="1.5"/><circle cx="496.9" cy="165.7" r="1.5"/><circle cx="518.3" cy="150.0" r="1.5"/><circle cx="499.8" cy="165.5" r="1.5"/><circle cx="493.9" cy="169.1" r="1.5"/><circle cx="504.8" cy="152.8" r="1.5"/><circle cx="488.2" cy="172.0" r="1.5"/><circle cx="501.9" cy="163.1" r="1.5"/><circle cx="503.8" cy="158.2" r="1.5"/><circle cx="490.4" cy="169.0" r="1.5"/><circle cx="512.9" cy="151.6" r="1.5"/><circle cx="499.8" cy="166.3" r="1.5"/><circle cx="503.5" cy="160.3" r="1.5"/><circle cx="510.4" cy="157.1" r="1.5"/><circle cx="494.2" cy="169.7" r="1.5"/><circle cx="490.9" cy="170.0" r="1.5"/><circle cx="499.7" cy="167.4" r="1.5"/><circle cx="489.0" cy="173.4" r="1.5"/><circle cx="526.2" cy="149.1" r="1.5"/><circle cx="487.7" cy="171.9" r="1.5"/><circle cx="494.8" cy="165.3" r="1.5"/><circle cx="489.5" cy="171.9" r="1.5"/><circle cx="492.2" cy="169.6" r="1.5"/><circle cx="544.2" cy="144.6" r="1.5"/><circle cx="493.1" cy="170.8" r="1.5"/><circle cx="513.3" cy="161.3" r="1.5"/><circle cx="490.7" cy="169.4" r="1.5"/><circle cx="495.6" cy="165.9" r="1.5"/><circle cx="487.7" cy="172.7" r="1.5"/><circle cx="533.9" cy="148.2" r="1.5"/><circle cx="490.8" cy="170.5" r="1.5"/><circle cx="555.2" cy="121.3" r="1.5"/><circle cx="495.5" cy="168.7" r="1.5"/><circle cx="498.0" cy="167.8" r="1.5"/><circle cx="495.2" cy="169.9" r="1.5"/><circle cx="497.2" cy="168.4" r="1.5"/><circle cx="508.7" cy="161.3" r="1.5"/><circle cx="532.2" cy="146.8" r="1.5"/><circle cx="492.1" cy="171.3" r="1.5"/><circle cx="488.5" cy="171.5" r="1.5"/><circle cx="507.4" cy="160.4" r="1.5"/><circle cx="511.2" cy="159.8" r="1.5"/><circle cx="548.3" cy="143.1" r="1.5"/><circle cx="510.4" cy="162.3" r="1.5"/><circle cx="500.7" cy="167.9" r="1.5"/><circle cx="505.4" cy="162.7" r="1.5"/><circle cx="499.1" cy="165.9" r="1.5"/><circle cx="491.8" cy="171.9" r="1.5"/><circle cx="499.9" cy="166.1" r="1.5"/><circle cx="489.0" cy="172.7" r="1.5"/><circle cx="517.7" cy="154.1" r="1.5"/><circle cx="493.9" cy="167.4" r="1.5"/><circle cx="489.5" cy="172.2" r="1.5"/><circle cx="528.3" cy="143.4" r="1.5"/><circle cx="487.7" cy="173.4" r="1.5"/><circle cx="488.1" cy="173.8" r="1.5"/><circle cx="536.4" cy="146.5" r="1.5"/><circle cx="503.1" cy="165.4" r="1.5"/><circle cx="527.6" cy="147.5" r="1.5"/><circle cx="489.6" cy="169.5" r="1.5"/><circle cx="511.2" cy="158.3" r="1.5"/><circle cx="501.1" cy="161.7" r="1.5"/><circle cx="500.0" cy="163.6" r="1.5"/><circle cx="552.1" cy="140.1" r="1.5"/><circle cx="488.3" cy="171.4" r="1.5"/><circle cx="498.7" cy="167.5" r="1.5"/><circle cx="510.7" cy="161.2" r="1.5"/><circle cx="501.4" cy="164.2" r="1.5"/><circle cx="529.1" cy="148.4" r="1.5"/><circle cx="507.9" cy="162.0" r="1.5"/><circle cx="509.0" cy="160.1" r="1.5"/><circle cx="510.4" cy="164.1" r="1.5"/><circle cx="549.4" cy="139.9" r="1.5"/><circle cx="493.2" cy="169.9" r="1.5"/><circle cx="498.7" cy="168.2" r="1.5"/><circle cx="504.2" cy="165.6" r="1.5"/><circle cx="488.6" cy="170.3" r="1.5"/><circle cx="542.1" cy="145.2" r="1.5"/><circle cx="490.0" cy="171.8" r="1.5"/><circle cx="497.5" cy="165.3" r="1.5"/><circle cx="488.1" cy="170.0" r="1.5"/><circle cx="491.8" cy="171.0" r="1.5"/><circle cx="496.3" cy="168.2" r="1.5"/><circle cx="504.3" cy="164.0" r="1.5"/><circle cx="505.7" cy="166.9" r="1.5"/><circle cx="571.1" cy="122.5" r="1.5"/><circle cx="489.9" cy="171.8" r="1.5"/><circle cx="503.0" cy="164.6" r="1.5"/><circle cx="489.2" cy="166.4" r="1.5"/><circle cx="497.5" cy="168.6" r="1.5"/><circle cx="534.1" cy="137.0" r="1.5"/><circle cx="498.1" cy="165.9" r="1.5"/><circle cx="515.5" cy="149.9" r="1.5"/><circle cx="513.8" cy="160.9" r="1.5"/><circle cx="489.4" cy="172.3" r="1.5"/><circle cx="498.3" cy="170.7" r="1.5"/><circle cx="492.2" cy="170.4" r="1.5"/><circle cx="489.4" cy="171.8" r="1.5"/><circle cx="502.7" cy="164.8" r="1.5"/><circle cx="520.2" cy="154.7" r="1.5"/><circle cx="491.3" cy="171.8" r="1.5"/><circle cx="512.5" cy="158.0" r="1.5"/><circle cx="503.9" cy="164.8" r="1.5"/><circle cx="507.9" cy="157.0" r="1.5"/><circle cx="493.9" cy="169.3" r="1.5"/><circle cx="489.7" cy="170.6" r="1.5"/><circle cx="490.6" cy="171.3" r="1.5"/><circle cx="493.5" cy="169.3" r="1.5"/><circle cx="490.2" cy="174.1" r="1.5"/><circle cx="490.1" cy="164.5" r="1.5"/><circle cx="503.1" cy="161.5" r="1.5"/><circle cx="489.3" cy="165.7" r="1.5"/><circle cx="490.0" cy="172.3" r="1.5"/><circle cx="489.9" cy="171.1" r="1.5"/><circle cx="493.0" cy="169.9" r="1.5"/><circle cx="491.4" cy="168.9" r="1.5"/><circle cx="529.7" cy="146.7" r="1.5"/><circle cx="502.9" cy="160.9" r="1.5"/><circle cx="509.7" cy="152.7" r="1.5"/><circle cx="512.2" cy="160.7" r="1.5"/><circle cx="499.1" cy="166.3" r="1.5"/><circle cx="496.3" cy="165.7" r="1.5"/><circle cx="502.6" cy="160.5" r="1.5"/><circle cx="504.2" cy="161.4" r="1.5"/><circle cx="516.2" cy="159.9" r="1.5"/><circle cx="498.2" cy="167.4" r="1.5"/><circle cx="507.9" cy="161.3" r="1.5"/><circle cx="487.7" cy="173.2" r="1.5"/><circle cx="496.4" cy="168.6" r="1.5"/><circle cx="488.7" cy="171.7" r="1.5"/><circle cx="491.5" cy="168.4" r="1.5"/><circle cx="491.5" cy="170.4" r="1.5"/><circle cx="492.0" cy="168.4" r="1.5"/><circle cx="506.3" cy="158.5" r="1.5"/><circle cx="497.9" cy="157.7" r="1.5"/><circle cx="549.1" cy="136.3" r="1.5"/><circle cx="488.9" cy="174.1" r="1.5"/><circle cx="499.6" cy="165.2" r="1.5"/><circle cx="494.3" cy="161.6" r="1.5"/><circle cx="557.3" cy="134.7" r="1.5"/><circle cx="542.0" cy="142.6" r="1.5"/><circle cx="501.2" cy="164.1" r="1.5"/><circle cx="512.0" cy="150.8" r="1.5"/><circle cx="491.9" cy="169.6" r="1.5"/><circle cx="498.4" cy="164.2" r="1.5"/><circle cx="489.4" cy="172.4" r="1.5"/><circle cx="493.8" cy="168.3" r="1.5"/><circle cx="511.3" cy="158.9" r="1.5"/><circle cx="493.2" cy="168.4" r="1.5"/><circle cx="492.0" cy="171.6" r="1.5"/><circle cx="493.3" cy="165.7" r="1.5"/><circle cx="497.3" cy="167.2" r="1.5"/><circle cx="502.3" cy="159.7" r="1.5"/><circle cx="488.3" cy="172.3" r="1.5"/><circle cx="490.4" cy="171.3" r="1.5"/><circle cx="492.5" cy="165.2" r="1.5"/><circle cx="535.4" cy="145.4" r="1.5"/><circle cx="523.5" cy="150.7" r="1.5"/><circle cx="549.7" cy="128.0" r="1.5"/><circle cx="495.8" cy="166.9" r="1.5"/><circle cx="494.0" cy="169.3" r="1.5"/><circle cx="494.8" cy="168.8" r="1.5"/><circle cx="493.5" cy="167.6" r="1.5"/><circle cx="505.0" cy="163.7" r="1.5"/><circle cx="489.4" cy="168.1" r="1.5"/><circle cx="509.8" cy="162.1" r="1.5"/><circle cx="497.1" cy="170.5" r="1.5"/><circle cx="495.8" cy="167.6" r="1.5"/><circle cx="507.0" cy="157.3" r="1.5"/><circle cx="492.8" cy="170.5" r="1.5"/><circle cx="523.0" cy="153.3" r="1.5"/><circle cx="497.4" cy="169.4" r="1.5"/><circle cx="571.8" cy="131.0" r="1.5"/><circle cx="505.2" cy="158.8" r="1.5"/><circle cx="492.1" cy="168.5" r="1.5"/><circle cx="517.1" cy="157.5" r="1.5"/><circle cx="489.6" cy="172.1" r="1.5"/><circle cx="499.5" cy="165.1" r="1.5"/><circle cx="548.5" cy="133.5" r="1.5"/><circle cx="501.6" cy="165.0" r="1.5"/><circle cx="509.8" cy="159.3" r="1.5"/><circle cx="500.0" cy="152.3" r="1.5"/><circle cx="493.9" cy="169.4" r="1.5"/><circle cx="488.8" cy="170.7" r="1.5"/><circle cx="511.5" cy="155.5" r="1.5"/><circle cx="502.6" cy="165.0" r="1.5"/><circle cx="488.8" cy="170.3" r="1.5"/><circle cx="488.2" cy="173.8" r="1.5"/><circle cx="526.1" cy="154.9" r="1.5"/><circle cx="568.7" cy="114.7" r="1.5"/><circle cx="496.7" cy="163.7" r="1.5"/><circle cx="493.5" cy="171.9" r="1.5"/><circle cx="492.0" cy="170.0" r="1.5"/><circle cx="489.8" cy="172.5" r="1.5"/><circle cx="502.0" cy="164.8" r="1.5"/><circle cx="488.3" cy="169.4" r="1.5"/><circle cx="490.9" cy="171.1" r="1.5"/><circle cx="498.1" cy="163.5" r="1.5"/><circle cx="491.3" cy="166.9" r="1.5"/><circle cx="491.9" cy="168.6" r="1.5"/><circle cx="525.7" cy="149.8" r="1.5"/><circle cx="489.2" cy="170.0" r="1.5"/><circle cx="515.2" cy="156.8" r="1.5"/><circle cx="512.3" cy="158.4" r="1.5"/><circle cx="491.3" cy="171.1" r="1.5"/><circle cx="492.0" cy="171.8" r="1.5"/><circle cx="510.4" cy="159.4" r="1.5"/><circle cx="495.9" cy="166.9" r="1.5"/><circle cx="490.6" cy="169.3" r="1.5"/><circle cx="525.2" cy="149.9" r="1.5"/><circle cx="491.1" cy="171.5" r="1.5"/><circle cx="498.4" cy="164.3" r="1.5"/><circle cx="494.7" cy="168.7" r="1.5"/><circle cx="489.0" cy="173.4" r="1.5"/><circle cx="519.0" cy="154.6" r="1.5"/><circle cx="493.3" cy="169.2" r="1.5"/><circle cx="492.5" cy="169.8" r="1.5"/><circle cx="494.4" cy="170.9" r="1.5"/><circle cx="487.5" cy="172.4" r="1.5"/><circle cx="511.1" cy="162.2" r="1.5"/><circle cx="506.4" cy="162.0" r="1.5"/><circle cx="501.8" cy="158.7" r="1.5"/><circle cx="495.8" cy="159.7" r="1.5"/><circle cx="521.4" cy="151.7" r="1.5"/><circle cx="502.7" cy="160.8" r="1.5"/><circle cx="491.0" cy="170.9" r="1.5"/><circle cx="502.1" cy="155.7" r="1.5"/><circle cx="507.3" cy="163.5" r="1.5"/><circle cx="493.9" cy="166.7" r="1.5"/><circle cx="494.4" cy="166.9" r="1.5"/><circle cx="520.5" cy="156.2" r="1.5"/><circle cx="497.5" cy="162.8" r="1.5"/><circle cx="504.7" cy="162.7" r="1.5"/><circle cx="505.0" cy="161.6" r="1.5"/><circle cx="491.6" cy="170.9" r="1.5"/><circle cx="502.1" cy="164.2" r="1.5"/><circle cx="495.1" cy="169.6" r="1.5"/><circle cx="545.9" cy="134.2" r="1.5"/><circle cx="522.4" cy="151.3" r="1.5"/><circle cx="487.6" cy="172.6" r="1.5"/><circle cx="512.5" cy="156.2" r="1.5"/><circle cx="487.8" cy="173.8" r="1.5"/><circle cx="496.4" cy="167.7" r="1.5"/><circle cx="492.2" cy="169.3" r="1.5"/><circle cx="521.8" cy="155.1" r="1.5"/><circle cx="493.0" cy="169.7" r="1.5"/><circle cx="508.9" cy="161.5" r="1.5"/><circle cx="530.8" cy="148.7" r="1.5"/><circle cx="560.7" cy="135.4" r="1.5"/><circle cx="488.5" cy="172.8" r="1.5"/><circle cx="494.6" cy="167.6" r="1.5"/><circle cx="502.9" cy="160.1" r="1.5"/><circle cx="526.6" cy="153.5" r="1.5"/><circle cx="494.1" cy="167.9" r="1.5"/><circle cx="531.7" cy="145.5" r="1.5"/><circle cx="492.7" cy="170.7" r="1.5"/><circle cx="494.9" cy="166.6" r="1.5"/><circle cx="529.6" cy="146.9" r="1.5"/><circle cx="496.4" cy="168.8" r="1.5"/><circle cx="492.6" cy="171.8" r="1.5"/><circle cx="490.0" cy="170.1" r="1.5"/><circle cx="498.0" cy="167.1" r="1.5"/><circle cx="493.6" cy="169.5" r="1.5"/><circle cx="488.9" cy="172.2" r="1.5"/><circle cx="488.7" cy="171.7" r="1.5"/><circle cx="497.7" cy="166.1" r="1.5"/><circle cx="488.5" cy="168.9" r="1.5"/><circle cx="502.6" cy="164.7" r="1.5"/><circle cx="543.7" cy="142.5" r="1.5"/><circle cx="489.8" cy="172.6" r="1.5"/><circle cx="505.4" cy="160.9" r="1.5"/><circle cx="487.7" cy="172.0" r="1.5"/><circle cx="491.8" cy="171.3" r="1.5"/><circle cx="539.4" cy="147.5" r="1.5"/><circle cx="539.2" cy="136.7" r="1.5"/><circle cx="531.6" cy="143.5" r="1.5"/><circle cx="562.2" cy="132.2" r="1.5"/><circle cx="497.1" cy="168.5" r="1.5"/><circle cx="518.7" cy="154.9" r="1.5"/><circle cx="509.5" cy="162.4" r="1.5"/><circle cx="506.9" cy="158.5" r="1.5"/><circle cx="489.4" cy="171.1" r="1.5"/><circle cx="501.6" cy="163.2" r="1.5"/><circle cx="495.9" cy="171.7" r="1.5"/><circle cx="488.4" cy="172.1" r="1.5"/><circle cx="495.3" cy="162.5" r="1.5"/><circle cx="512.3" cy="159.5" r="1.5"/><circle cx="510.0" cy="160.9" r="1.5"/><circle cx="495.1" cy="170.3" r="1.5"/><circle cx="492.4" cy="169.8" r="1.5"/><circle cx="489.5" cy="170.7" r="1.5"/><circle cx="491.2" cy="170.1" r="1.5"/><circle cx="525.3" cy="151.8" r="1.5"/><circle cx="539.5" cy="144.6" r="1.5"/><circle cx="512.9" cy="160.3" r="1.5"/><circle cx="558.0" cy="132.1" r="1.5"/><circle cx="504.8" cy="163.9" r="1.5"/><circle cx="497.1" cy="169.5" r="1.5"/><circle cx="492.2" cy="168.8" r="1.5"/><circle cx="492.7" cy="170.6" r="1.5"/><circle cx="502.8" cy="166.3" r="1.5"/><circle cx="491.8" cy="167.6" r="1.5"/><circle cx="520.8" cy="157.6" r="1.5"/><circle cx="489.9" cy="170.1" r="1.5"/><circle cx="506.1" cy="162.8" r="1.5"/><circle cx="495.5" cy="170.3" r="1.5"/><circle cx="491.1" cy="168.0" r="1.5"/><circle cx="493.6" cy="167.7" r="1.5"/><circle cx="513.9" cy="157.7" r="1.5"/><circle cx="489.6" cy="170.6" r="1.5"/><circle cx="498.0" cy="161.8" r="1.5"/><circle cx="552.2" cy="134.1" r="1.5"/><circle cx="513.9" cy="161.0" r="1.5"/><circle cx="488.1" cy="172.2" r="1.5"/><circle cx="495.7" cy="169.6" r="1.5"/><circle cx="508.5" cy="162.5" r="1.5"/><circle cx="499.0" cy="166.8" r="1.5"/><circle cx="505.0" cy="160.5" r="1.5"/><circle cx="496.8" cy="169.7" r="1.5"/><circle cx="497.7" cy="168.7" r="1.5"/><circle cx="502.5" cy="161.0" r="1.5"/><circle cx="512.9" cy="160.3" r="1.5"/><circle cx="493.5" cy="168.7" r="1.5"/><circle cx="498.9" cy="167.0" r="1.5"/><circle cx="504.5" cy="163.5" r="1.5"/><circle cx="497.3" cy="160.9" r="1.5"/><circle cx="489.5" cy="171.6" r="1.5"/><circle cx="487.9" cy="171.7" r="1.5"/><circle cx="536.0" cy="144.2" r="1.5"/><circle cx="492.2" cy="170.8" r="1.5"/><circle cx="503.4" cy="157.2" r="1.5"/><circle cx="497.5" cy="160.9" r="1.5"/><circle cx="529.0" cy="148.0" r="1.5"/><circle cx="490.2" cy="171.1" r="1.5"/><circle cx="496.5" cy="167.5" r="1.5"/><circle cx="511.4" cy="160.2" r="1.5"/><circle cx="504.3" cy="161.7" r="1.5"/><circle cx="492.0" cy="171.8" r="1.5"/><circle cx="494.8" cy="166.5" r="1.5"/><circle cx="505.7" cy="164.9" r="1.5"/><circle cx="511.5" cy="158.2" r="1.5"/><circle cx="487.9" cy="173.2" r="1.5"/><circle cx="503.5" cy="163.7" r="1.5"/><circle cx="492.5" cy="170.2" r="1.5"/><circle cx="541.5" cy="136.3" r="1.5"/><circle cx="488.5" cy="172.3" r="1.5"/><circle cx="488.8" cy="165.0" r="1.5"/><circle cx="495.5" cy="167.1" r="1.5"/><circle cx="501.4" cy="163.9" r="1.5"/><circle cx="495.8" cy="167.1" r="1.5"/><circle cx="490.4" cy="169.6" r="1.5"/><circle cx="489.9" cy="172.4" r="1.5"/><circle cx="496.1" cy="170.0" r="1.5"/><circle cx="514.2" cy="154.8" r="1.5"/><circle cx="519.5" cy="145.4" r="1.5"/><circle cx="493.4" cy="169.2" r="1.5"/><circle cx="487.7" cy="173.0" r="1.5"/><circle cx="490.8" cy="172.8" r="1.5"/><circle cx="526.2" cy="151.3" r="1.5"/><circle cx="500.0" cy="165.7" r="1.5"/><circle cx="487.6" cy="171.5" r="1.5"/><circle cx="498.8" cy="169.9" r="1.5"/><circle cx="499.5" cy="164.6" r="1.5"/><circle cx="497.3" cy="169.2" r="1.5"/><circle cx="490.5" cy="172.4" r="1.5"/><circle cx="502.9" cy="163.9" r="1.5"/><circle cx="489.4" cy="169.6" r="1.5"/><circle cx="494.4" cy="166.2" r="1.5"/><circle cx="499.8" cy="165.2" r="1.5"/><circle cx="493.3" cy="172.4" r="1.5"/><circle cx="490.8" cy="170.1" r="1.5"/><circle cx="506.1" cy="161.8" r="1.5"/><circle cx="557.2" cy="128.6" r="1.5"/><circle cx="491.6" cy="172.3" r="1.5"/><circle cx="496.4" cy="167.2" r="1.5"/><circle cx="490.2" cy="170.9" r="1.5"/><circle cx="489.9" cy="171.6" r="1.5"/><circle cx="489.9" cy="172.9" r="1.5"/><circle cx="493.2" cy="172.1" r="1.5"/><circle cx="488.1" cy="171.3" r="1.5"/><circle cx="496.3" cy="170.1" r="1.5"/><circle cx="493.4" cy="169.2" r="1.5"/><circle cx="492.9" cy="166.1" r="1.5"/><circle cx="488.4" cy="173.2" r="1.5"/><circle cx="496.5" cy="171.2" r="1.5"/><circle cx="498.3" cy="165.8" r="1.5"/><circle cx="501.0" cy="167.2" r="1.5"/><circle cx="508.4" cy="161.2" r="1.5"/><circle cx="500.5" cy="164.1" r="1.5"/><circle cx="524.6" cy="151.1" r="1.5"/><circle cx="508.0" cy="161.5" r="1.5"/><circle cx="488.2" cy="172.8" r="1.5"/><circle cx="504.2" cy="159.5" r="1.5"/><circle cx="558.9" cy="131.9" r="1.5"/><circle cx="492.4" cy="170.8" r="1.5"/><circle cx="491.2" cy="170.7" r="1.5"/><circle cx="508.0" cy="162.8" r="1.5"/><circle cx="528.4" cy="150.9" r="1.5"/><circle cx="490.2" cy="169.3" r="1.5"/><circle cx="498.1" cy="163.0" r="1.5"/><circle cx="517.8" cy="154.8" r="1.5"/><circle cx="497.5" cy="167.2" r="1.5"/><circle cx="496.2" cy="169.1" r="1.5"/><circle cx="520.4" cy="152.0" r="1.5"/><circle cx="494.3" cy="169.8" r="1.5"/><circle cx="498.4" cy="161.3" r="1.5"/><circle cx="506.9" cy="165.2" r="1.5"/><circle cx="490.4" cy="171.8" r="1.5"/><circle cx="517.6" cy="151.6" r="1.5"/><circle cx="510.1" cy="160.1" r="1.5"/><circle cx="515.9" cy="154.4" r="1.5"/><circle cx="509.3" cy="161.5" r="1.5"/><circle cx="492.1" cy="171.4" r="1.5"/><circle cx="509.6" cy="156.8" r="1.5"/><circle cx="508.4" cy="160.1" r="1.5"/><circle cx="497.0" cy="166.3" r="1.5"/><circle cx="501.7" cy="165.8" r="1.5"/><circle cx="518.4" cy="157.2" r="1.5"/><circle cx="519.0" cy="156.5" r="1.5"/><circle cx="519.5" cy="151.6" r="1.5"/><circle cx="510.5" cy="160.5" r="1.5"/><circle cx="534.7" cy="137.7" r="1.5"/><circle cx="498.5" cy="166.1" r="1.5"/><circle cx="488.8" cy="171.6" r="1.5"/><circle cx="503.8" cy="163.0" r="1.5"/><circle cx="488.7" cy="171.1" r="1.5"/><circle cx="510.4" cy="160.9" r="1.5"/><circle cx="491.1" cy="171.3" r="1.5"/><circle cx="493.2" cy="164.1" r="1.5"/><circle cx="509.7" cy="162.0" r="1.5"/><circle cx="489.5" cy="169.0" r="1.5"/><circle cx="489.0" cy="171.0" r="1.5"/><circle cx="496.0" cy="168.7" r="1.5"/><circle cx="490.8" cy="171.0" r="1.5"/><circle cx="514.1" cy="149.2" r="1.5"/><circle cx="501.6" cy="161.6" r="1.5"/><circle cx="491.2" cy="169.5" r="1.5"/><circle cx="489.7" cy="172.0" r="1.5"/><circle cx="498.4" cy="166.2" r="1.5"/><circle cx="536.5" cy="146.8" r="1.5"/><circle cx="530.1" cy="143.0" r="1.5"/><circle cx="521.4" cy="149.5" r="1.5"/><circle cx="490.9" cy="170.7" r="1.5"/><circle cx="490.2" cy="172.6" r="1.5"/><circle cx="504.0" cy="167.0" r="1.5"/><circle cx="513.1" cy="156.2" r="1.5"/><circle cx="526.5" cy="148.0" r="1.5"/><circle cx="534.5" cy="145.0" r="1.5"/><circle cx="508.7" cy="158.1" r="1.5"/><circle cx="528.4" cy="152.8" r="1.5"/><circle cx="508.5" cy="151.7" r="1.5"/><circle cx="522.6" cy="146.7" r="1.5"/><circle cx="494.8" cy="167.4" r="1.5"/><circle cx="495.7" cy="169.7" r="1.5"/><circle cx="518.8" cy="158.9" r="1.5"/><circle cx="559.3" cy="129.7" r="1.5"/><circle cx="488.6" cy="172.0" r="1.5"/><circle cx="527.3" cy="152.7" r="1.5"/><circle cx="488.9" cy="172.2" r="1.5"/><circle cx="492.4" cy="170.8" r="1.5"/><circle cx="511.9" cy="156.5" r="1.5"/><circle cx="500.5" cy="165.6" r="1.5"/><circle cx="501.3" cy="162.3" r="1.5"/><circle cx="506.4" cy="155.9" r="1.5"/><circle cx="544.2" cy="144.8" r="1.5"/><circle cx="541.3" cy="134.3" r="1.5"/><circle cx="496.5" cy="167.6" r="1.5"/><circle cx="507.4" cy="161.1" r="1.5"/><circle cx="497.2" cy="160.5" r="1.5"/><circle cx="515.2" cy="156.8" r="1.5"/><circle cx="525.6" cy="154.5" r="1.5"/><circle cx="496.4" cy="167.0" r="1.5"/><circle cx="504.9" cy="161.7" r="1.5"/><circle cx="508.1" cy="154.4" r="1.5"/><circle cx="520.5" cy="154.6" r="1.5"/><circle cx="498.2" cy="167.9" r="1.5"/><circle cx="493.5" cy="166.8" r="1.5"/><circle cx="497.0" cy="160.7" r="1.5"/><circle cx="528.8" cy="151.6" r="1.5"/><circle cx="517.2" cy="158.2" r="1.5"/><circle cx="508.5" cy="159.2" r="1.5"/><circle cx="492.0" cy="171.9" r="1.5"/><circle cx="492.0" cy="162.3" r="1.5"/><circle cx="496.2" cy="161.2" r="1.5"/><circle cx="492.2" cy="170.2" r="1.5"/><circle cx="527.3" cy="150.1" r="1.5"/><circle cx="502.6" cy="163.9" r="1.5"/><circle cx="489.5" cy="173.6" r="1.5"/><circle cx="497.3" cy="167.9" r="1.5"/><circle cx="506.5" cy="162.5" r="1.5"/><circle cx="505.3" cy="160.6" r="1.5"/><circle cx="521.3" cy="152.7" r="1.5"/><circle cx="497.1" cy="164.0" r="1.5"/><circle cx="491.9" cy="172.7" r="1.5"/><circle cx="529.8" cy="141.2" r="1.5"/><circle cx="498.1" cy="165.7" r="1.5"/><circle cx="490.0" cy="168.7" r="1.5"/><circle cx="491.1" cy="172.2" r="1.5"/><circle cx="495.9" cy="167.6" r="1.5"/><circle cx="497.8" cy="164.7" r="1.5"/><circle cx="533.5" cy="145.6" r="1.5"/><circle cx="515.0" cy="155.8" r="1.5"/><circle cx="530.9" cy="147.9" r="1.5"/><circle cx="511.4" cy="163.0" r="1.5"/><circle cx="531.4" cy="149.0" r="1.5"/><circle cx="498.8" cy="166.2" r="1.5"/><circle cx="509.4" cy="161.3" r="1.5"/><circle cx="491.4" cy="169.8" r="1.5"/><circle cx="507.3" cy="158.6" r="1.5"/><circle cx="498.0" cy="164.9" r="1.5"/><circle cx="506.5" cy="162.1" r="1.5"/><circle cx="487.9" cy="171.4" r="1.5"/><circle cx="496.0" cy="169.1" r="1.5"/><circle cx="509.7" cy="158.7" r="1.5"/><circle cx="490.6" cy="169.3" r="1.5"/><circle cx="504.3" cy="167.9" r="1.5"/><circle cx="495.3" cy="168.1" r="1.5"/><circle cx="502.8" cy="163.1" r="1.5"/><circle cx="491.5" cy="169.2" r="1.5"/><circle cx="502.1" cy="162.2" r="1.5"/><circle cx="502.0" cy="162.9" r="1.5"/><circle cx="519.9" cy="156.1" r="1.5"/><circle cx="490.3" cy="169.7" r="1.5"/><circle cx="495.2" cy="168.5" r="1.5"/><circle cx="488.1" cy="172.7" r="1.5"/><circle cx="502.8" cy="163.3" r="1.5"/><circle cx="505.6" cy="168.3" r="1.5"/><circle cx="503.8" cy="163.5" r="1.5"/><circle cx="488.9" cy="173.1" r="1.5"/><circle cx="516.3" cy="158.4" r="1.5"/><circle cx="503.4" cy="166.7" r="1.5"/><circle cx="487.7" cy="170.3" r="1.5"/><circle cx="487.6" cy="172.4" r="1.5"/><circle cx="506.8" cy="164.2" r="1.5"/><circle cx="542.2" cy="146.2" r="1.5"/><circle cx="499.7" cy="164.2" r="1.5"/><circle cx="490.2" cy="173.3" r="1.5"/><circle cx="502.1" cy="161.3" r="1.5"/><circle cx="495.2" cy="170.7" r="1.5"/><circle cx="500.1" cy="165.1" r="1.5"/><circle cx="489.4" cy="170.6" r="1.5"/><circle cx="498.4" cy="164.5" r="1.5"/><circle cx="512.9" cy="148.0" r="1.5"/><circle cx="488.5" cy="172.5" r="1.5"/><circle cx="497.9" cy="169.1" r="1.5"/><circle cx="495.2" cy="171.6" r="1.5"/><circle cx="490.3" cy="166.6" r="1.5"/><circle cx="496.1" cy="165.2" r="1.5"/><circle cx="550.2" cy="132.3" r="1.5"/><circle cx="505.1" cy="163.6" r="1.5"/><circle cx="506.8" cy="161.2" r="1.5"/><circle cx="487.6" cy="173.2" r="1.5"/><circle cx="508.8" cy="157.8" r="1.5"/><circle cx="494.3" cy="162.1" r="1.5"/><circle cx="492.7" cy="168.9" r="1.5"/><circle cx="490.2" cy="170.1" r="1.5"/><circle cx="491.6" cy="173.6" r="1.5"/><circle cx="488.4" cy="172.1" r="1.5"/><circle cx="496.3" cy="169.8" r="1.5"/><circle cx="550.2" cy="137.7" r="1.5"/><circle cx="549.1" cy="131.6" r="1.5"/><circle cx="501.7" cy="167.5" r="1.5"/><circle cx="521.9" cy="156.4" r="1.5"/><circle cx="492.2" cy="168.8" r="1.5"/><circle cx="532.2" cy="144.6" r="1.5"/><circle cx="546.3" cy="141.8" r="1.5"/><circle cx="487.8" cy="173.0" r="1.5"/><circle cx="505.2" cy="160.2" r="1.5"/><circle cx="527.5" cy="152.4" r="1.5"/><circle cx="499.4" cy="165.0" r="1.5"/><circle cx="494.9" cy="164.5" r="1.5"/><circle cx="517.0" cy="157.6" r="1.5"/><circle cx="491.5" cy="171.0" r="1.5"/><circle cx="491.1" cy="170.5" r="1.5"/><circle cx="495.7" cy="170.7" r="1.5"/><circle cx="522.8" cy="151.5" r="1.5"/><circle cx="501.6" cy="165.3" r="1.5"/><circle cx="510.1" cy="159.5" r="1.5"/><circle cx="501.8" cy="165.6" r="1.5"/><circle cx="489.4" cy="170.5" r="1.5"/><circle cx="536.5" cy="146.5" r="1.5"/><circle cx="493.8" cy="167.8" r="1.5"/><circle cx="503.2" cy="157.0" r="1.5"/><circle cx="508.7" cy="153.8" r="1.5"/><circle cx="515.6" cy="150.5" r="1.5"/><circle cx="500.5" cy="166.0" r="1.5"/><circle cx="492.5" cy="170.3" r="1.5"/><circle cx="500.2" cy="165.8" r="1.5"/><circle cx="488.3" cy="164.0" r="1.5"/><circle cx="502.9" cy="160.4" r="1.5"/><circle cx="493.0" cy="167.3" r="1.5"/><circle cx="493.3" cy="170.3" r="1.5"/><circle cx="490.1" cy="169.5" r="1.5"/><circle cx="512.0" cy="154.7" r="1.5"/><circle cx="494.3" cy="166.9" r="1.5"/><circle cx="490.0" cy="170.4" r="1.5"/><circle cx="490.7" cy="171.2" r="1.5"/><circle cx="520.7" cy="154.6" r="1.5"/><circle cx="490.5" cy="171.8" r="1.5"/><circle cx="569.6" cy="118.3" r="1.5"/><circle cx="490.8" cy="170.3" r="1.5"/><circle cx="518.5" cy="148.3" r="1.5"/><circle cx="494.8" cy="169.7" r="1.5"/><circle cx="489.0" cy="171.9" r="1.5"/><circle cx="489.9" cy="170.5" r="1.5"/><circle cx="503.7" cy="163.5" r="1.5"/><circle cx="498.7" cy="167.7" r="1.5"/><circle cx="544.3" cy="143.3" r="1.5"/><circle cx="515.5" cy="157.3" r="1.5"/><circle cx="489.7" cy="171.4" r="1.5"/><circle cx="489.3" cy="171.8" r="1.5"/><circle cx="509.1" cy="158.7" r="1.5"/><circle cx="523.2" cy="143.3" r="1.5"/><circle cx="545.3" cy="137.8" r="1.5"/><circle cx="509.1" cy="158.6" r="1.5"/><circle cx="503.9" cy="157.3" r="1.5"/><circle cx="488.1" cy="173.5" r="1.5"/><circle cx="498.8" cy="165.0" r="1.5"/><circle cx="502.5" cy="155.8" r="1.5"/><circle cx="489.3" cy="169.9" r="1.5"/><circle cx="489.0" cy="172.5" r="1.5"/><circle cx="493.8" cy="169.2" r="1.5"/><circle cx="537.2" cy="143.7" r="1.5"/><circle cx="488.1" cy="173.2" r="1.5"/><circle cx="487.7" cy="173.5" r="1.5"/><circle cx="501.3" cy="159.7" r="1.5"/><circle cx="514.3" cy="156.2" r="1.5"/><circle cx="506.9" cy="162.7" r="1.5"/><circle cx="496.5" cy="165.9" r="1.5"/><circle cx="501.7" cy="163.4" r="1.5"/><circle cx="496.4" cy="168.7" r="1.5"/><circle cx="503.6" cy="165.0" r="1.5"/><circle cx="487.8" cy="173.7" r="1.5"/><circle cx="525.8" cy="151.6" r="1.5"/><circle cx="494.3" cy="161.2" r="1.5"/><circle cx="494.2" cy="169.9" r="1.5"/><circle cx="500.6" cy="165.4" r="1.5"/><circle cx="487.9" cy="172.6" r="1.5"/><circle cx="488.5" cy="174.0" r="1.5"/><circle cx="502.0" cy="165.4" r="1.5"/><circle cx="501.1" cy="165.1" r="1.5"/><circle cx="533.1" cy="146.0" r="1.5"/><circle cx="518.3" cy="155.0" r="1.5"/><circle cx="491.1" cy="171.6" r="1.5"/><circle cx="535.4" cy="144.2" r="1.5"/><circle cx="503.1" cy="166.0" r="1.5"/><circle cx="489.8" cy="171.5" r="1.5"/><circle cx="489.0" cy="172.7" r="1.5"/><circle cx="494.3" cy="169.1" r="1.5"/><circle cx="491.1" cy="170.0" r="1.5"/><circle cx="488.7" cy="170.5" r="1.5"/><circle cx="498.1" cy="168.5" r="1.5"/><circle cx="508.3" cy="160.9" r="1.5"/><circle cx="502.7" cy="160.5" r="1.5"/><circle cx="490.0" cy="172.6" r="1.5"/><circle cx="527.1" cy="151.9" r="1.5"/><circle cx="508.5" cy="161.0" r="1.5"/><circle cx="499.6" cy="165.2" r="1.5"/><circle cx="496.7" cy="168.4" r="1.5"/><circle cx="491.6" cy="171.4" r="1.5"/><circle cx="511.6" cy="155.8" r="1.5"/><circle cx="489.6" cy="169.4" r="1.5"/><circle cx="519.3" cy="150.9" r="1.5"/><circle cx="489.0" cy="173.1" r="1.5"/><circle cx="488.1" cy="173.6" r="1.5"/><circle cx="503.2" cy="164.5" r="1.5"/><circle cx="496.4" cy="166.2" r="1.5"/><circle cx="488.4" cy="170.3" r="1.5"/><circle cx="500.8" cy="162.6" r="1.5"/><circle cx="499.2" cy="159.0" r="1.5"/><circle cx="528.1" cy="148.8" r="1.5"/><circle cx="488.0" cy="172.5" r="1.5"/><circle cx="491.0" cy="172.8" r="1.5"/><circle cx="524.7" cy="151.8" r="1.5"/><circle cx="488.7" cy="169.3" r="1.5"/><circle cx="488.9" cy="172.3" r="1.5"/><circle cx="509.0" cy="160.9" r="1.5"/><circle cx="492.5" cy="169.4" r="1.5"/><circle cx="492.7" cy="170.6" r="1.5"/><circle cx="503.7" cy="161.9" r="1.5"/><circle cx="496.1" cy="170.6" r="1.5"/><circle cx="490.1" cy="171.6" r="1.5"/><circle cx="507.7" cy="161.1" r="1.5"/><circle cx="494.3" cy="168.9" r="1.5"/><circle cx="489.8" cy="171.0" r="1.5"/><circle cx="537.7" cy="148.1" r="1.5"/><circle cx="504.8" cy="166.5" r="1.5"/><circle cx="510.2" cy="163.2" r="1.5"/><circle cx="493.0" cy="170.9" r="1.5"/><circle cx="516.4" cy="152.8" r="1.5"/><circle cx="523.1" cy="153.5" r="1.5"/><circle cx="542.3" cy="136.3" r="1.5"/><circle cx="494.9" cy="170.0" r="1.5"/><circle cx="496.8" cy="165.1" r="1.5"/><circle cx="509.8" cy="150.8" r="1.5"/><circle cx="516.0" cy="161.0" r="1.5"/><circle cx="512.1" cy="157.2" r="1.5"/><circle cx="539.0" cy="144.1" r="1.5"/><circle cx="488.8" cy="172.8" r="1.5"/><circle cx="488.4" cy="169.8" r="1.5"/><circle cx="495.0" cy="171.1" r="1.5"/><circle cx="499.5" cy="165.3" r="1.5"/><circle cx="515.2" cy="158.2" r="1.5"/><circle cx="488.9" cy="173.5" r="1.5"/><circle cx="506.0" cy="164.9" r="1.5"/><circle cx="493.4" cy="169.0" r="1.5"/><circle cx="537.6" cy="137.7" r="1.5"/><circle cx="502.7" cy="162.3" r="1.5"/><circle cx="508.2" cy="157.7" r="1.5"/><circle cx="493.8" cy="171.0" r="1.5"/><circle cx="511.4" cy="162.3" r="1.5"/><circle cx="491.8" cy="166.8" r="1.5"/><circle cx="497.0" cy="162.4" r="1.5"/><circle cx="522.2" cy="154.2" r="1.5"/><circle cx="516.5" cy="160.6" r="1.5"/><circle cx="518.5" cy="157.3" r="1.5"/><circle cx="515.0" cy="145.7" r="1.5"/><circle cx="489.4" cy="173.9" r="1.5"/><circle cx="501.4" cy="165.2" r="1.5"/><circle cx="495.1" cy="169.7" r="1.5"/><circle cx="502.7" cy="163.1" r="1.5"/><circle cx="498.6" cy="168.2" r="1.5"/><circle cx="498.1" cy="167.9" r="1.5"/><circle cx="495.5" cy="171.0" r="1.5"/><circle cx="488.9" cy="171.4" r="1.5"/><circle cx="516.1" cy="156.4" r="1.5"/><circle cx="505.0" cy="162.2" r="1.5"/><circle cx="496.6" cy="166.9" r="1.5"/><circle cx="490.1" cy="171.0" r="1.5"/><circle cx="530.9" cy="135.9" r="1.5"/><circle cx="490.2" cy="172.3" r="1.5"/><circle cx="573.6" cy="124.6" r="1.5"/><circle cx="492.7" cy="166.3" r="1.5"/><circle cx="487.6" cy="174.3" r="1.5"/><circle cx="498.6" cy="168.0" r="1.5"/><circle cx="497.2" cy="170.2" r="1.5"/><circle cx="562.8" cy="129.5" r="1.5"/><circle cx="510.0" cy="159.6" r="1.5"/><circle cx="522.4" cy="155.8" r="1.5"/><circle cx="528.2" cy="150.2" r="1.5"/><circle cx="495.7" cy="168.8" r="1.5"/><circle cx="513.3" cy="154.8" r="1.5"/><circle cx="498.8" cy="165.7" r="1.5"/><circle cx="516.9" cy="157.6" r="1.5"/><circle cx="508.2" cy="159.9" r="1.5"/><circle cx="507.2" cy="159.6" r="1.5"/><circle cx="491.2" cy="171.5" r="1.5"/><circle cx="521.2" cy="158.2" r="1.5"/><circle cx="518.7" cy="157.4" r="1.5"/><circle cx="499.8" cy="160.9" r="1.5"/><circle cx="510.5" cy="159.8" r="1.5"/><circle cx="502.3" cy="165.2" r="1.5"/><circle cx="489.6" cy="171.6" r="1.5"/><circle cx="506.3" cy="160.9" r="1.5"/><circle cx="493.5" cy="170.1" r="1.5"/><circle cx="539.0" cy="142.0" r="1.5"/><circle cx="492.7" cy="167.9" r="1.5"/><circle cx="494.5" cy="170.0" r="1.5"/><circle cx="494.7" cy="167.0" r="1.5"/><circle cx="570.1" cy="131.3" r="1.5"/><circle cx="489.4" cy="171.9" r="1.5"/><circle cx="507.0" cy="161.1" r="1.5"/><circle cx="487.6" cy="173.1" r="1.5"/><circle cx="503.2" cy="157.6" r="1.5"/><circle cx="497.1" cy="168.8" r="1.5"/><circle cx="526.7" cy="150.3" r="1.5"/><circle cx="536.5" cy="144.5" r="1.5"/><circle cx="511.0" cy="156.6" r="1.5"/><circle cx="489.7" cy="167.4" r="1.5"/><circle cx="516.1" cy="159.0" r="1.5"/><circle cx="520.1" cy="151.1" r="1.5"/><circle cx="512.2" cy="154.1" r="1.5"/><circle cx="503.3" cy="161.6" r="1.5"/><circle cx="500.3" cy="165.6" r="1.5"/><circle cx="559.9" cy="129.5" r="1.5"/><circle cx="523.4" cy="146.7" r="1.5"/><circle cx="523.5" cy="154.6" r="1.5"/><circle cx="501.2" cy="154.1" r="1.5"/><circle cx="503.7" cy="162.1" r="1.5"/><circle cx="488.4" cy="171.7" r="1.5"/><circle cx="544.0" cy="133.5" r="1.5"/><circle cx="498.1" cy="167.2" r="1.5"/><circle cx="489.3" cy="170.7" r="1.5"/><circle cx="489.7" cy="172.7" r="1.5"/><circle cx="506.0" cy="156.5" r="1.5"/><circle cx="577.0" cy="114.4" r="1.5"/><circle cx="506.7" cy="154.7" r="1.5"/><circle cx="516.4" cy="159.1" r="1.5"/><circle cx="495.0" cy="167.8" r="1.5"/><circle cx="501.4" cy="169.1" r="1.5"/><circle cx="489.7" cy="170.7" r="1.5"/><circle cx="497.2" cy="166.9" r="1.5"/><circle cx="489.6" cy="171.5" r="1.5"/><circle cx="493.9" cy="170.6" r="1.5"/><circle cx="508.0" cy="162.8" r="1.5"/><circle cx="491.5" cy="171.4" r="1.5"/><circle cx="523.1" cy="154.5" r="1.5"/><circle cx="507.3" cy="163.9" r="1.5"/><circle cx="498.8" cy="168.1" r="1.5"/><circle cx="530.9" cy="150.6" r="1.5"/><circle cx="490.3" cy="172.4" r="1.5"/><circle cx="516.6" cy="157.3" r="1.5"/><circle cx="535.2" cy="144.8" r="1.5"/><circle cx="503.3" cy="164.7" r="1.5"/><circle cx="494.0" cy="168.5" r="1.5"/><circle cx="490.2" cy="168.8" r="1.5"/><circle cx="519.8" cy="154.7" r="1.5"/><circle cx="509.4" cy="157.6" r="1.5"/><circle cx="508.8" cy="160.7" r="1.5"/><circle cx="489.4" cy="170.0" r="1.5"/><circle cx="528.6" cy="151.5" r="1.5"/><circle cx="492.9" cy="171.0" r="1.5"/><circle cx="489.3" cy="172.0" r="1.5"/><circle cx="491.9" cy="168.5" r="1.5"/><circle cx="493.9" cy="168.8" r="1.5"/><circle cx="504.5" cy="159.3" r="1.5"/><circle cx="488.7" cy="170.6" r="1.5"/><circle cx="500.8" cy="165.8" r="1.5"/><circle cx="495.9" cy="167.0" r="1.5"/><circle cx="492.4" cy="169.0" r="1.5"/><circle cx="491.9" cy="173.2" r="1.5"/><circle cx="492.2" cy="171.0" r="1.5"/><circle cx="501.7" cy="160.4" r="1.5"/><circle cx="491.8" cy="170.7" r="1.5"/><circle cx="496.0" cy="169.0" r="1.5"/><circle cx="505.6" cy="159.7" r="1.5"/><circle cx="500.5" cy="162.9" r="1.5"/><circle cx="490.2" cy="168.1" r="1.5"/><circle cx="504.7" cy="162.7" r="1.5"/><circle cx="501.7" cy="163.1" r="1.5"/><circle cx="543.6" cy="138.3" r="1.5"/><circle cx="500.8" cy="162.0" r="1.5"/><circle cx="520.2" cy="152.1" r="1.5"/><circle cx="501.4" cy="167.2" r="1.5"/><circle cx="532.5" cy="144.5" r="1.5"/><circle cx="492.2" cy="168.3" r="1.5"/><circle cx="498.3" cy="167.8" r="1.5"/><circle cx="533.5" cy="150.3" r="1.5"/><circle cx="503.1" cy="157.8" r="1.5"/><circle cx="490.6" cy="170.4" r="1.5"/><circle cx="488.0" cy="174.0" r="1.5"/><circle cx="526.4" cy="147.9" r="1.5"/><circle cx="529.4" cy="153.9" r="1.5"/><circle cx="496.3" cy="170.0" r="1.5"/><circle cx="496.1" cy="167.7" r="1.5"/><circle cx="494.0" cy="170.2" r="1.5"/><circle cx="496.6" cy="168.7" r="1.5"/><circle cx="505.9" cy="153.2" r="1.5"/><circle cx="493.2" cy="170.6" r="1.5"/><circle cx="504.1" cy="162.6" r="1.5"/><circle cx="494.7" cy="166.7" r="1.5"/><circle cx="493.4" cy="165.8" r="1.5"/><circle cx="516.0" cy="159.5" r="1.5"/><circle cx="487.9" cy="173.8" r="1.5"/><circle cx="573.3" cy="124.3" r="1.5"/><circle cx="521.2" cy="154.7" r="1.5"/><circle cx="495.5" cy="169.6" r="1.5"/><circle cx="502.1" cy="167.4" r="1.5"/><circle cx="496.0" cy="168.1" r="1.5"/><circle cx="497.7" cy="166.8" r="1.5"/><circle cx="501.6" cy="164.4" r="1.5"/><circle cx="502.1" cy="160.5" r="1.5"/><circle cx="487.8" cy="173.0" r="1.5"/><circle cx="497.7" cy="166.9" r="1.5"/><circle cx="492.8" cy="168.7" r="1.5"/><circle cx="490.2" cy="171.7" r="1.5"/><circle cx="494.2" cy="171.0" r="1.5"/><circle cx="499.9" cy="167.5" r="1.5"/><circle cx="489.1" cy="171.3" r="1.5"/><circle cx="490.6" cy="170.8" r="1.5"/><circle cx="510.9" cy="160.2" r="1.5"/><circle cx="529.5" cy="141.3" r="1.5"/><circle cx="539.7" cy="137.9" r="1.5"/><circle cx="534.1" cy="144.8" r="1.5"/><circle cx="490.3" cy="161.0" r="1.5"/><circle cx="495.0" cy="167.2" r="1.5"/><circle cx="488.7" cy="172.8" r="1.5"/><circle cx="505.8" cy="161.9" r="1.5"/><circle cx="496.1" cy="169.9" r="1.5"/><circle cx="512.8" cy="158.1" r="1.5"/><circle cx="508.4" cy="161.9" r="1.5"/><circle cx="489.0" cy="172.2" r="1.5"/><circle cx="492.3" cy="170.6" r="1.5"/><circle cx="506.3" cy="159.6" r="1.5"/><circle cx="515.1" cy="155.1" r="1.5"/><circle cx="509.0" cy="157.1" r="1.5"/><circle cx="490.5" cy="170.1" r="1.5"/><circle cx="495.2" cy="169.1" r="1.5"/><circle cx="517.4" cy="154.0" r="1.5"/><circle cx="496.1" cy="164.9" r="1.5"/><circle cx="495.5" cy="166.8" r="1.5"/><circle cx="499.0" cy="167.5" r="1.5"/><circle cx="490.5" cy="173.6" r="1.5"/><circle cx="498.9" cy="157.3" r="1.5"/><circle cx="514.2" cy="148.1" r="1.5"/><circle cx="542.3" cy="132.8" r="1.5"/><circle cx="508.7" cy="162.0" r="1.5"/><circle cx="508.8" cy="161.6" r="1.5"/><circle cx="511.4" cy="158.9" r="1.5"/><circle cx="488.3" cy="168.8" r="1.5"/><circle cx="489.6" cy="172.5" r="1.5"/><circle cx="539.0" cy="142.6" r="1.5"/><circle cx="506.6" cy="163.5" r="1.5"/><circle cx="494.0" cy="161.0" r="1.5"/><circle cx="498.9" cy="166.6" r="1.5"/><circle cx="506.1" cy="163.2" r="1.5"/><circle cx="501.4" cy="162.7" r="1.5"/><circle cx="490.6" cy="166.9" r="1.5"/><circle cx="496.1" cy="168.9" r="1.5"/><circle cx="540.2" cy="143.2" r="1.5"/><circle cx="503.4" cy="165.0" r="1.5"/><circle cx="503.6" cy="161.6" r="1.5"/><circle cx="502.9" cy="165.7" r="1.5"/><circle cx="504.1" cy="159.5" r="1.5"/><circle cx="494.4" cy="163.2" r="1.5"/><circle cx="498.6" cy="167.2" r="1.5"/><circle cx="505.6" cy="164.2" r="1.5"/><circle cx="530.1" cy="140.8" r="1.5"/><circle cx="496.3" cy="167.0" r="1.5"/><circle cx="511.7" cy="158.4" r="1.5"/><circle cx="497.9" cy="165.6" r="1.5"/><circle cx="509.3" cy="151.7" r="1.5"/><circle cx="488.0" cy="172.5" r="1.5"/><circle cx="496.8" cy="170.0" r="1.5"/><circle cx="497.7" cy="168.3" r="1.5"/><circle cx="517.2" cy="156.0" r="1.5"/><circle cx="490.2" cy="170.1" r="1.5"/><circle cx="491.0" cy="171.8" r="1.5"/><circle cx="491.8" cy="172.1" r="1.5"/><circle cx="490.6" cy="171.4" r="1.5"/><circle cx="488.9" cy="173.2" r="1.5"/><circle cx="488.0" cy="173.9" r="1.5"/><circle cx="508.5" cy="162.0" r="1.5"/><circle cx="494.5" cy="165.6" r="1.5"/><circle cx="503.8" cy="163.6" r="1.5"/><circle cx="500.5" cy="164.9" r="1.5"/><circle cx="497.8" cy="167.6" r="1.5"/><circle cx="493.0" cy="168.8" r="1.5"/><circle cx="488.1" cy="174.1" r="1.5"/><circle cx="489.2" cy="170.8" r="1.5"/><circle cx="493.3" cy="171.3" r="1.5"/><circle cx="494.5" cy="168.8" r="1.5"/><circle cx="489.2" cy="172.9" r="1.5"/><circle cx="497.0" cy="169.1" r="1.5"/><circle cx="503.3" cy="157.9" r="1.5"/><circle cx="489.9" cy="169.5" r="1.5"/><circle cx="489.1" cy="173.4" r="1.5"/><circle cx="494.4" cy="161.6" r="1.5"/><circle cx="500.0" cy="165.8" r="1.5"/><circle cx="488.9" cy="172.2" r="1.5"/><circle cx="493.2" cy="171.7" r="1.5"/><circle cx="494.2" cy="168.9" r="1.5"/><circle cx="494.4" cy="169.4" r="1.5"/><circle cx="496.6" cy="168.8" r="1.5"/><circle cx="489.2" cy="169.3" r="1.5"/><circle cx="493.2" cy="169.0" r="1.5"/><circle cx="489.5" cy="171.8" r="1.5"/><circle cx="489.3" cy="172.0" r="1.5"/><circle cx="491.0" cy="168.3" r="1.5"/><circle cx="522.3" cy="146.8" r="1.5"/><circle cx="490.2" cy="170.4" r="1.5"/><circle cx="495.7" cy="167.6" r="1.5"/><circle cx="491.5" cy="169.7" r="1.5"/><circle cx="506.9" cy="162.6" r="1.5"/><circle cx="496.1" cy="169.4" r="1.5"/><circle cx="495.6" cy="169.0" r="1.5"/><circle cx="500.0" cy="150.3" r="1.5"/><circle cx="529.4" cy="153.3" r="1.5"/><circle cx="511.4" cy="159.5" r="1.5"/><circle cx="495.0" cy="168.4" r="1.5"/><circle cx="500.5" cy="164.9" r="1.5"/><circle cx="488.6" cy="165.2" r="1.5"/><circle cx="494.2" cy="171.0" r="1.5"/><circle cx="500.5" cy="164.6" r="1.5"/><circle cx="490.0" cy="169.4" r="1.5"/><circle cx="513.9" cy="160.3" r="1.5"/><circle cx="503.8" cy="165.2" r="1.5"/><circle cx="495.4" cy="171.9" r="1.5"/><circle cx="492.0" cy="172.3" r="1.5"/><circle cx="515.5" cy="154.7" r="1.5"/><circle cx="490.4" cy="169.3" r="1.5"/><circle cx="510.2" cy="154.6" r="1.5"/><circle cx="491.3" cy="170.4" r="1.5"/><circle cx="511.3" cy="160.0" r="1.5"/><circle cx="498.4" cy="164.3" r="1.5"/><circle cx="495.9" cy="167.6" r="1.5"/><circle cx="507.1" cy="153.7" r="1.5"/><circle cx="502.4" cy="165.3" r="1.5"/><circle cx="507.7" cy="161.0" r="1.5"/><circle cx="490.1" cy="172.5" r="1.5"/><circle cx="505.7" cy="164.9" r="1.5"/><circle cx="508.6" cy="155.8" r="1.5"/><circle cx="488.8" cy="173.5" r="1.5"/><circle cx="514.9" cy="155.5" r="1.5"/><circle cx="502.4" cy="167.3" r="1.5"/><circle cx="529.3" cy="145.0" r="1.5"/><circle cx="491.0" cy="164.0" r="1.5"/><circle cx="512.3" cy="158.0" r="1.5"/><circle cx="492.3" cy="168.6" r="1.5"/><circle cx="495.4" cy="161.8" r="1.5"/><circle cx="510.3" cy="159.2" r="1.5"/><circle cx="493.6" cy="171.6" r="1.5"/><circle cx="492.2" cy="172.9" r="1.5"/><circle cx="488.7" cy="173.7" r="1.5"/><circle cx="517.7" cy="152.8" r="1.5"/><circle cx="487.7" cy="173.1" r="1.5"/><circle cx="489.2" cy="172.3" r="1.5"/><circle cx="503.3" cy="165.0" r="1.5"/><circle cx="489.0" cy="174.3" r="1.5"/><circle cx="488.7" cy="173.9" r="1.5"/><circle cx="495.7" cy="166.8" r="1.5"/><circle cx="497.9" cy="168.0" r="1.5"/><circle cx="511.7" cy="161.1" r="1.5"/><circle cx="516.9" cy="154.8" r="1.5"/><circle cx="488.8" cy="174.0" r="1.5"/><circle cx="528.6" cy="146.2" r="1.5"/><circle cx="502.2" cy="159.5" r="1.5"/><circle cx="506.3" cy="160.2" r="1.5"/><circle cx="494.4" cy="170.2" r="1.5"/><circle cx="498.7" cy="164.3" r="1.5"/><circle cx="551.1" cy="133.6" r="1.5"/><circle cx="507.1" cy="160.6" r="1.5"/><circle cx="556.7" cy="119.5" r="1.5"/><circle cx="509.6" cy="158.7" r="1.5"/><circle cx="489.2" cy="172.0" r="1.5"/><circle cx="509.4" cy="155.6" r="1.5"/><circle cx="489.4" cy="165.4" r="1.5"/><circle cx="494.1" cy="167.0" r="1.5"/><circle cx="490.1" cy="171.8" r="1.5"/><circle cx="509.1" cy="164.4" r="1.5"/><circle cx="501.3" cy="166.9" r="1.5"/><circle cx="491.0" cy="173.1" r="1.5"/><circle cx="543.1" cy="142.4" r="1.5"/><circle cx="505.6" cy="160.8" r="1.5"/><circle cx="488.8" cy="169.4" r="1.5"/><circle cx="488.9" cy="166.4" r="1.5"/><circle cx="488.4" cy="172.9" r="1.5"/><circle cx="490.9" cy="172.0" r="1.5"/><circle cx="500.8" cy="165.7" r="1.5"/><circle cx="519.1" cy="155.7" r="1.5"/><circle cx="502.0" cy="163.5" r="1.5"/><circle cx="493.6" cy="168.4" r="1.5"/><circle cx="513.2" cy="161.0" r="1.5"/><circle cx="512.6" cy="159.2" r="1.5"/><circle cx="495.0" cy="165.8" r="1.5"/><circle cx="494.3" cy="169.0" r="1.5"/><circle cx="493.3" cy="168.5" r="1.5"/><circle cx="521.6" cy="158.5" r="1.5"/><circle cx="496.8" cy="167.8" r="1.5"/><circle cx="547.2" cy="140.6" r="1.5"/><circle cx="527.6" cy="147.6" r="1.5"/><circle cx="501.0" cy="163.4" r="1.5"/><circle cx="510.2" cy="160.1" r="1.5"/><circle cx="504.3" cy="164.0" r="1.5"/><circle cx="506.9" cy="162.7" r="1.5"/><circle cx="493.2" cy="168.8" r="1.5"/><circle cx="560.8" cy="134.8" r="1.5"/><circle cx="498.0" cy="158.5" r="1.5"/><circle cx="492.7" cy="171.1" r="1.5"/><circle cx="496.9" cy="167.1" r="1.5"/><circle cx="495.7" cy="172.2" r="1.5"/><circle cx="488.2" cy="171.2" r="1.5"/><circle cx="543.1" cy="139.0" r="1.5"/><circle cx="488.0" cy="169.0" r="1.5"/><circle cx="499.6" cy="164.2" r="1.5"/><circle cx="500.3" cy="167.5" r="1.5"/><circle cx="487.9" cy="172.0" r="1.5"/><circle cx="490.0" cy="169.8" r="1.5"/><circle cx="502.6" cy="166.6" r="1.5"/><circle cx="500.1" cy="164.3" r="1.5"/><circle cx="531.3" cy="150.6" r="1.5"/><circle cx="492.4" cy="167.7" r="1.5"/><circle cx="494.6" cy="168.0" r="1.5"/><circle cx="490.7" cy="173.0" r="1.5"/><circle cx="503.0" cy="166.4" r="1.5"/><circle cx="539.3" cy="132.4" r="1.5"/><circle cx="497.0" cy="169.3" r="1.5"/><circle cx="507.7" cy="160.3" r="1.5"/><circle cx="488.0" cy="173.0" r="1.5"/><circle cx="500.7" cy="167.1" r="1.5"/><circle cx="502.3" cy="163.4" r="1.5"/><circle cx="503.2" cy="166.0" r="1.5"/><circle cx="488.7" cy="173.7" r="1.5"/><circle cx="503.3" cy="158.8" r="1.5"/><circle cx="488.7" cy="168.1" r="1.5"/><circle cx="501.5" cy="163.8" r="1.5"/><circle cx="508.3" cy="162.0" r="1.5"/><circle cx="492.3" cy="167.4" r="1.5"/><circle cx="515.0" cy="154.4" r="1.5"/><circle cx="495.5" cy="168.3" r="1.5"/><circle cx="489.0" cy="172.2" r="1.5"/><circle cx="491.9" cy="166.8" r="1.5"/><circle cx="498.1" cy="165.4" r="1.5"/><circle cx="492.3" cy="166.8" r="1.5"/><circle cx="490.1" cy="167.3" r="1.5"/><circle cx="496.7" cy="169.5" r="1.5"/><circle cx="495.8" cy="169.2" r="1.5"/><circle cx="536.2" cy="143.2" r="1.5"/><circle cx="491.4" cy="170.4" r="1.5"/><circle cx="490.1" cy="171.6" r="1.5"/><circle cx="490.9" cy="165.1" r="1.5"/><circle cx="493.6" cy="168.0" r="1.5"/><circle cx="528.3" cy="139.3" r="1.5"/><circle cx="510.2" cy="161.6" r="1.5"/><circle cx="510.7" cy="152.3" r="1.5"/><circle cx="497.2" cy="166.1" r="1.5"/><circle cx="504.2" cy="156.2" r="1.5"/><circle cx="507.6" cy="158.9" r="1.5"/><circle cx="495.6" cy="166.7" r="1.5"/><circle cx="531.5" cy="146.6" r="1.5"/><circle cx="491.1" cy="171.9" r="1.5"/><circle cx="518.5" cy="156.6" r="1.5"/><circle cx="495.6" cy="166.0" r="1.5"/><circle cx="550.8" cy="137.0" r="1.5"/><circle cx="489.4" cy="171.1" r="1.5"/><circle cx="493.9" cy="170.9" r="1.5"/><circle cx="494.0" cy="158.6" r="1.5"/><circle cx="520.7" cy="148.4" r="1.5"/><circle cx="495.6" cy="168.0" r="1.5"/><circle cx="512.6" cy="156.7" r="1.5"/><circle cx="494.9" cy="170.3" r="1.5"/><circle cx="496.2" cy="169.9" r="1.5"/><circle cx="487.7" cy="172.5" r="1.5"/><circle cx="518.0" cy="148.1" r="1.5"/><circle cx="520.6" cy="155.0" r="1.5"/><circle cx="497.2" cy="169.1" r="1.5"/><circle cx="492.1" cy="172.0" r="1.5"/><circle cx="492.8" cy="168.4" r="1.5"/><circle cx="522.1" cy="153.8" r="1.5"/><circle cx="513.9" cy="161.5" r="1.5"/><circle cx="495.7" cy="167.4" r="1.5"/><circle cx="494.3" cy="171.2" r="1.5"/><circle cx="493.5" cy="171.1" r="1.5"/><circle cx="487.7" cy="172.9" r="1.5"/><circle cx="494.7" cy="170.4" r="1.5"/><circle cx="558.1" cy="133.2" r="1.5"/><circle cx="488.2" cy="170.9" r="1.5"/><circle cx="527.7" cy="152.2" r="1.5"/><circle cx="506.8" cy="158.0" r="1.5"/><circle cx="540.4" cy="147.8" r="1.5"/><circle cx="503.3" cy="162.1" r="1.5"/><circle cx="514.2" cy="157.1" r="1.5"/><circle cx="490.2" cy="167.1" r="1.5"/><circle cx="490.8" cy="171.2" r="1.5"/><circle cx="492.2" cy="169.8" r="1.5"/><circle cx="522.3" cy="152.6" r="1.5"/><circle cx="498.7" cy="166.1" r="1.5"/><circle cx="498.1" cy="166.3" r="1.5"/><circle cx="489.8" cy="172.6" r="1.5"/><circle cx="491.0" cy="170.0" r="1.5"/><circle cx="505.8" cy="155.9" r="1.5"/><circle cx="490.1" cy="170.7" r="1.5"/><circle cx="493.6" cy="168.8" r="1.5"/><circle cx="546.5" cy="133.1" r="1.5"/><circle cx="533.3" cy="150.8" r="1.5"/><circle cx="513.6" cy="155.8" r="1.5"/><circle cx="496.5" cy="165.4" r="1.5"/><circle cx="487.5" cy="172.8" r="1.5"/><circle cx="488.4" cy="173.0" r="1.5"/><circle cx="492.3" cy="169.2" r="1.5"/><circle cx="492.6" cy="170.0" r="1.5"/><circle cx="514.3" cy="161.7" r="1.5"/><circle cx="491.1" cy="173.4" r="1.5"/><circle cx="490.8" cy="171.9" r="1.5"/><circle cx="498.1" cy="159.2" r="1.5"/><circle cx="500.2" cy="159.5" r="1.5"/><circle cx="488.8" cy="172.1" r="1.5"/><circle cx="516.4" cy="152.9" r="1.5"/><circle cx="537.8" cy="141.0" r="1.5"/><circle cx="519.6" cy="154.2" r="1.5"/><circle cx="514.5" cy="159.6" r="1.5"/><circle cx="489.8" cy="170.6" r="1.5"/><circle cx="497.2" cy="168.3" r="1.5"/><circle cx="488.0" cy="173.7" r="1.5"/><circle cx="491.0" cy="172.1" r="1.5"/><circle cx="501.5" cy="162.9" r="1.5"/><circle cx="489.5" cy="172.4" r="1.5"/><circle cx="489.1" cy="171.5" r="1.5"/><circle cx="493.7" cy="163.5" r="1.5"/><circle cx="551.5" cy="139.3" r="1.5"/><circle cx="506.1" cy="163.5" r="1.5"/><circle cx="506.8" cy="105.3" r="1.5"/><circle cx="537.0" cy="111.2" r="1.5"/><circle cx="522.6" cy="116.2" r="1.5"/><circle cx="535.5" cy="121.1" r="1.5"/><circle cx="548.5" cy="114.1" r="1.5"/><circle cx="569.2" cy="103.8" r="1.5"/><circle cx="571.7" cy="109.9" r="1.5"/><circle cx="578.7" cy="109.9" r="1.5"/><circle cx="549.2" cy="121.1" r="1.5"/><circle cx="552.8" cy="120.4" r="1.5"/><circle cx="547.5" cy="125.7" r="1.5"/><circle cx="550.7" cy="127.0" r="1.5"/><circle cx="532.1" cy="128.9" r="1.5"/><circle cx="517.4" cy="133.1" r="1.5"/><circle cx="512.7" cy="139.4" r="1.5"/><circle cx="528.5" cy="139.0" r="1.5"/><circle cx="511.0" cy="143.8" r="1.5"/><circle cx="592.2" cy="24.9" r="1.5"/><circle cx="637.0" cy="31.5" r="1.5"/><circle cx="656.2" cy="55.8" r="1.5"/><circle cx="657.3" cy="59.6" r="1.5"/><circle cx="672.0" cy="60.1" r="1.5"/><circle cx="663.0" cy="64.3" r="1.5"/><circle cx="663.7" cy="70.3" r="1.5"/><circle cx="665.8" cy="73.5" r="1.5"/><circle cx="668.8" cy="75.2" r="1.5"/><circle cx="675.4" cy="72.7" r="1.5"/><circle cx="652.8" cy="74.6" r="1.5"/><circle cx="667.3" cy="85.2" r="1.5"/><circle cx="637.9" cy="82.5" r="1.5"/><circle cx="646.0" cy="80.5" r="1.5"/><circle cx="649.2" cy="83.5" r="1.5"/><circle cx="651.3" cy="84.2" r="1.5"/><circle cx="653.0" cy="86.3" r="1.5"/><circle cx="654.1" cy="87.4" r="1.5"/><circle cx="652.4" cy="90.6" r="1.5"/><circle cx="647.7" cy="87.8" r="1.5"/><circle cx="640.0" cy="88.4" r="1.5"/><circle cx="642.1" cy="91.6" r="1.5"/><circle cx="601.2" cy="88.0" r="1.5"/><circle cx="597.0" cy="93.1" r="1.5"/><circle cx="582.0" cy="92.7" r="1.5"/><circle cx="606.5" cy="95.3" r="1.5"/><circle cx="605.0" cy="98.0" r="1.5"/><circle cx="621.0" cy="89.5" r="1.5"/><circle cx="619.3" cy="92.1" r="1.5"/><circle cx="622.5" cy="93.1" r="1.5"/><circle cx="618.2" cy="95.9" r="1.5"/><circle cx="614.0" cy="98.0" r="1.5"/><circle cx="637.0" cy="95.5" r="1.5"/><circle cx="640.2" cy="95.5" r="1.5"/><circle cx="637.4" cy="98.0" r="1.5"/><circle cx="628.9" cy="98.0" r="1.5"/><circle cx="632.5" cy="98.0" r="1.5"/><circle cx="592.2" cy="104.0" r="1.5"/><circle cx="605.5" cy="98.8" r="1.5"/><circle cx="607.2" cy="99.7" r="1.5"/><circle cx="613.6" cy="98.8" r="1.5"/><circle cx="617.2" cy="102.7" r="1.5"/><circle cx="621.4" cy="98.2" r="1.5"/><circle cx="624.6" cy="100.3" r="1.5"/><circle cx="629.3" cy="98.2" r="1.5"/><circle cx="632.7" cy="99.3" r="1.5"/><circle cx="637.0" cy="97.1" r="1.5"/><circle cx="637.9" cy="98.8" r="1.5"/><circle cx="640.6" cy="95.4" r="1.5"/><circle cx="620.8" cy="107.4" r="1.5"/><circle cx="634.2" cy="107.4" r="1.5"/><circle cx="630.6" cy="109.5" r="1.5"/><circle cx="627.4" cy="114.6" r="1.5"/><circle cx="612.9" cy="108.2" r="1.5"/><circle cx="609.3" cy="108.9" r="1.5"/><circle cx="607.2" cy="105.2" r="1.5"/><circle cx="605.0" cy="111.0" r="1.5"/><circle cx="602.3" cy="112.5" r="1.5"/><circle cx="599.7" cy="113.8" r="1.5"/><circle cx="597.4" cy="114.8" r="1.5"/><circle cx="593.7" cy="118.9" r="1.5"/><circle cx="591.6" cy="116.3" r="1.5"/><circle cx="589.5" cy="118.0" r="1.5"/><circle cx="587.3" cy="121.7" r="1.5"/><circle cx="584.1" cy="122.7" r="1.5"/><circle cx="583.1" cy="127.0" r="1.5"/><circle cx="585.2" cy="116.3" r="1.5"/><circle cx="586.3" cy="118.5" r="1.5"/><circle cx="576.7" cy="76.3" r="1.5"/><circle cx="580.9" cy="92.7" r="1.5"/><circle cx="565.4" cy="123.5" r="1.5"/><circle cx="567.5" cy="123.5" r="1.5"/><circle cx="561.2" cy="125.0" r="1.5"/><circle cx="557.6" cy="128.8" r="1.5"/><circle cx="554.8" cy="130.5" r="1.5"/><circle cx="569.7" cy="129.3" r="1.5"/><circle cx="573.9" cy="128.1" r="1.5"/><circle cx="575.3" cy="127.4" r="1.5"/><circle cx="581.0" cy="130.5" r="1.5"/><circle cx="576.0" cy="133.8" r="1.5"/><circle cx="583.8" cy="114.7" r="1.5"/><circle cx="585.9" cy="116.1" r="1.5"/><circle cx="588.7" cy="117.5" r="1.5"/><circle cx="590.9" cy="116.1" r="1.5"/><circle cx="593.0" cy="115.8" r="1.5"/></g>
<path d="M488.0,173.3 L675.3,65.0" stroke="#000" stroke-width="1.8"/>
<rect x="479.3" y="17.5" width="205.09999999999997" height="163.5" fill="none" stroke="#7f7f7f" stroke-width="1.1"/>
<text x="488.6" y="33" font-size="7.3"><tspan font-style="italic">R</tspan> = 0.96 , <tspan font-style="italic">p</tspan> &lt; 2.2e−16</text>
<g stroke="#333" stroke-width="0.9"><path d="M476.3,177.60 H479.3"/><path d="M476.3,146.20 H479.3"/><path d="M476.3,114.80 H479.3"/><path d="M476.3,83.40 H479.3"/><path d="M476.3,52.00 H479.3"/><path d="M476.3,20.60 H479.3"/><path d="M481.50,181.0 V183.7"/><path d="M541.62,181.0 V183.7"/><path d="M601.74,181.0 V183.7"/><path d="M661.86,181.0 V183.7"/></g>
<text x="475.3" y="180.95" font-size="9.7" text-anchor="end" fill="#222">0</text>
<text x="475.3" y="149.55" font-size="9.7" text-anchor="end" fill="#222">100</text>
<text x="475.3" y="118.15" font-size="9.7" text-anchor="end" fill="#222">200</text>
<text x="475.3" y="86.75" font-size="9.7" text-anchor="end" fill="#222">300</text>
<text x="475.3" y="55.35" font-size="9.7" text-anchor="end" fill="#222">400</text>
<text x="475.3" y="23.95" font-size="9.7" text-anchor="end" fill="#222">500</text>
<text x="481.5" y="193.0" font-size="9.7" text-anchor="middle" fill="#222">0</text>
<text x="541.62" y="193.0" font-size="9.7" text-anchor="middle" fill="#222">100</text>
<text x="601.74" y="193.0" font-size="9.7" text-anchor="middle" fill="#222">200</text>
<text x="661.86" y="193.0" font-size="9.7" text-anchor="middle" fill="#222">300</text>
<text x="585" y="204.0" font-size="9.95" text-anchor="middle" >−log10(p-value)</text>
<text transform="translate(452.9,102.4) rotate(-90)" font-size="10.2" text-anchor="middle">-log10(p-value) Sun et al., 2023</text>
<g fill="#36a0d5" stroke="#111" stroke-width="0.55"><rect x="489.82" y="363.38" width="2.56" height="0.72"/><rect x="492.38" y="281.43" width="2.56" height="82.67"/><rect x="494.95" y="221.87" width="2.56" height="142.23"/><rect x="497.51" y="257.97" width="2.56" height="106.13"/><rect x="500.08" y="216.81" width="2.56" height="147.29"/><rect x="502.64" y="248.94" width="2.56" height="115.16"/><rect x="505.21" y="297.68" width="2.56" height="66.42"/><rect x="507.77" y="309.95" width="2.56" height="54.15"/><rect x="510.34" y="318.25" width="2.56" height="45.85"/><rect x="512.90" y="316.45" width="2.56" height="47.65"/><rect x="515.47" y="324.75" width="2.56" height="39.35"/><rect x="518.03" y="329.81" width="2.56" height="34.30"/><rect x="520.60" y="339.91" width="2.56" height="24.19"/><rect x="523.16" y="342.44" width="2.56" height="21.66"/><rect x="525.73" y="349.30" width="2.56" height="14.80"/><rect x="528.29" y="350.74" width="2.56" height="13.36"/><rect x="530.86" y="350.74" width="2.56" height="13.36"/><rect x="533.42" y="352.19" width="2.56" height="11.91"/><rect x="535.99" y="355.44" width="2.56" height="8.66"/><rect x="538.55" y="356.52" width="2.56" height="7.58"/><rect x="541.12" y="358.32" width="2.56" height="5.78"/><rect x="543.68" y="355.44" width="2.56" height="8.66"/><rect x="546.25" y="359.41" width="2.56" height="4.69"/><rect x="548.81" y="360.13" width="2.56" height="3.97"/><rect x="551.38" y="361.03" width="2.56" height="3.07"/><rect x="553.94" y="361.03" width="2.56" height="3.07"/><rect x="556.51" y="361.03" width="2.56" height="3.07"/><rect x="559.08" y="361.03" width="2.56" height="3.07"/><rect x="561.64" y="361.93" width="2.56" height="2.17"/><rect x="564.21" y="361.03" width="2.56" height="3.07"/><rect x="566.77" y="363.74" width="2.56" height="0.36"/><rect x="569.34" y="362.40" width="2.56" height="1.70"/><rect x="571.90" y="362.40" width="2.56" height="1.70"/><rect x="574.47" y="362.40" width="2.56" height="1.70"/><rect x="577.03" y="363.38" width="2.56" height="0.72"/><rect x="579.60" y="362.80" width="2.56" height="1.30"/><rect x="582.16" y="362.80" width="2.56" height="1.30"/><rect x="584.73" y="362.80" width="2.56" height="1.30"/><rect x="587.29" y="363.74" width="2.56" height="0.36"/><rect x="589.86" y="361.57" width="2.56" height="2.53"/><rect x="592.42" y="362.40" width="2.56" height="1.70"/><rect x="594.99" y="362.66" width="2.56" height="1.44"/><rect x="597.55" y="363.02" width="2.56" height="1.08"/><rect x="600.12" y="363.74" width="2.56" height="0.36"/><rect x="602.68" y="363.74" width="2.56" height="0.36"/><rect x="605.25" y="363.74" width="2.56" height="0.36"/><rect x="607.81" y="363.74" width="2.56" height="0.36"/><rect x="610.38" y="363.74" width="2.56" height="0.36"/><rect x="615.50" y="363.38" width="2.56" height="0.72"/><rect x="618.07" y="363.74" width="2.56" height="0.36"/><rect x="623.20" y="363.74" width="2.56" height="0.36"/><rect x="625.76" y="363.74" width="2.56" height="0.36"/><rect x="628.33" y="363.74" width="2.56" height="0.36"/><rect x="630.89" y="363.74" width="2.56" height="0.36"/><rect x="636.02" y="363.74" width="2.56" height="0.36"/><rect x="638.59" y="363.38" width="2.56" height="0.72"/><rect x="641.15" y="363.74" width="2.56" height="0.36"/><rect x="653.98" y="363.74" width="2.56" height="0.36"/><rect x="656.54" y="363.74" width="2.56" height="0.36"/><rect x="659.11" y="363.74" width="2.56" height="0.36"/><rect x="664.24" y="363.74" width="2.56" height="0.36"/><rect x="666.80" y="363.74" width="2.56" height="0.36"/></g>
<path d="M480.6,206.7 V364.5 H678.8" fill="none" stroke="#333" stroke-width="0.85"/>
<g stroke="#000" stroke-width="0.9"><path d="M477.9,364.10 H480.6"/><path d="M477.9,328.00 H480.6"/><path d="M477.9,291.90 H480.6"/><path d="M477.9,255.80 H480.6"/><path d="M477.9,219.70 H480.6"/><path d="M514.90,364.6 V367.3"/><path d="M551.55,364.6 V367.3"/><path d="M588.20,364.6 V367.3"/><path d="M624.85,364.6 V367.3"/><path d="M661.50,364.6 V367.3"/></g>
<text x="477.2" y="367.45" font-size="9.7" text-anchor="end" fill="#222">0</text>
<text x="477.2" y="331.35" font-size="9.7" text-anchor="end" fill="#222">100</text>
<text x="477.2" y="295.25" font-size="9.7" text-anchor="end" fill="#222">200</text>
<text x="477.2" y="259.15" font-size="9.7" text-anchor="end" fill="#222">300</text>
<text x="477.2" y="223.05" font-size="9.7" text-anchor="end" fill="#222">400</text>
<text x="514.9" y="374.7" font-size="9.7" text-anchor="middle" fill="#222">1000</text>
<text x="551.55" y="374.7" font-size="9.7" text-anchor="middle" fill="#222">2000</text>
<text x="588.2" y="374.7" font-size="9.7" text-anchor="middle" fill="#222">3000</text>
<text x="624.85" y="374.7" font-size="9.7" text-anchor="middle" fill="#222">4000</text>
<text x="661.5" y="374.7" font-size="9.7" text-anchor="middle" fill="#222">5000</text>
<text x="576.3" y="386.7" font-size="9.8" text-anchor="middle" >Number of input variants to DL modelling pipeline</text>
<text transform="translate(452.6,290.2) rotate(-90)" font-size="10.1" text-anchor="middle">Number of Proteins</text>
</svg>
</body></html>
